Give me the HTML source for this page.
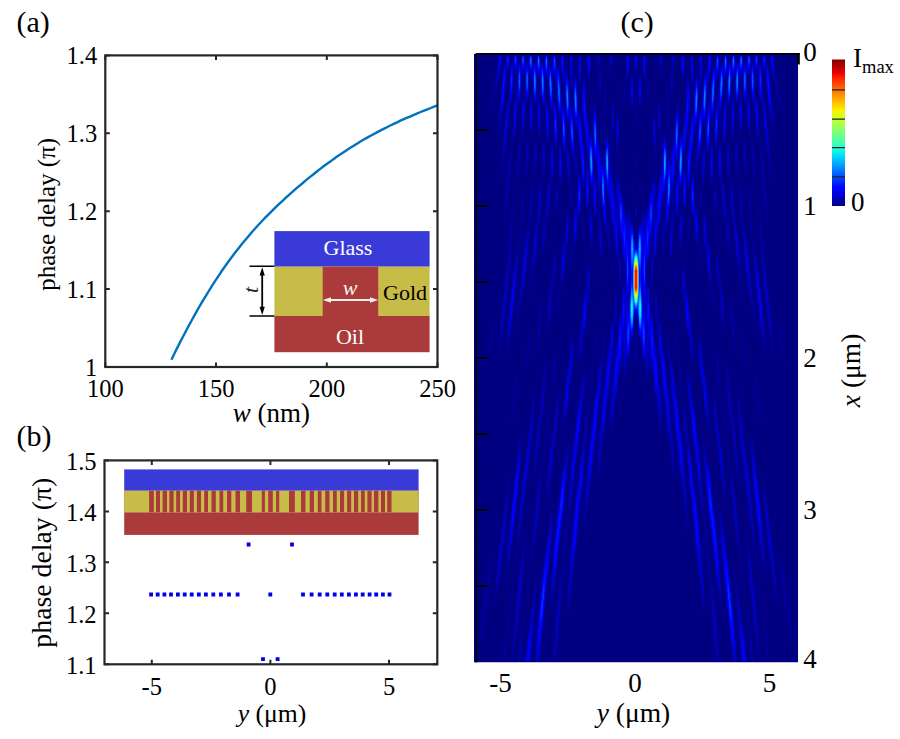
<!DOCTYPE html>
<html><head><meta charset="utf-8"><style>html,body{margin:0;padding:0;background:#fff;width:900px;height:739px;overflow:hidden}svg{display:block}text{font-family:"Liberation Serif",serif}</style></head>
<body><svg width="900" height="739" viewBox="0 0 900 739" font-family="Liberation Serif, serif"><text x="16.50" y="32.30" font-size="30" text-anchor="start" fill="#000" >(a)</text>
<path d="M171.4,359.7 L174.8,352.8 L178.1,346.1 L181.5,339.5 L184.9,333.0 L188.2,326.7 L191.6,320.5 L195.0,314.4 L198.3,308.5 L201.7,302.7 L205.1,297.1 L208.5,291.5 L211.8,286.1 L215.2,280.9 L218.6,275.8 L221.9,270.8 L225.3,266.0 L228.7,261.3 L232.0,256.7 L235.4,252.3 L238.8,247.9 L242.1,243.7 L245.5,239.7 L248.9,235.7 L252.2,231.8 L255.6,228.0 L259.0,224.3 L262.3,220.7 L265.7,217.2 L269.1,213.8 L272.5,210.4 L275.8,207.2 L279.2,203.9 L282.6,200.8 L285.9,197.7 L289.3,194.6 L292.7,191.7 L296.0,188.7 L299.4,185.8 L302.8,183.0 L306.1,180.1 L309.5,177.4 L312.9,174.7 L316.2,172.0 L319.6,169.4 L323.0,166.8 L326.3,164.3 L329.7,161.9 L333.1,159.4 L336.4,157.1 L339.8,154.7 L343.2,152.5 L346.6,150.2 L349.9,148.1 L353.3,145.9 L356.7,143.9 L360.0,141.8 L363.4,139.8 L366.8,137.9 L370.1,136.0 L373.5,134.2 L376.9,132.4 L380.2,130.6 L383.6,128.9 L387.0,127.2 L390.3,125.5 L393.7,123.9 L397.1,122.3 L400.4,120.7 L403.8,119.2 L407.2,117.7 L410.6,116.3 L413.9,114.8 L417.3,113.4 L420.7,112.0 L424.0,110.6 L427.4,109.3 L430.8,108.0 L434.1,106.6 L437.5,105.3" fill="none" stroke="#0072BD" stroke-width="2.4"/>
<rect x="274.4" y="231.1" width="155.2" height="35.6" fill="#3A3AD8"/>
<rect x="274.4" y="266.7" width="155.2" height="49.3" fill="#C8BC48"/>
<rect x="322.7" y="266.7" width="55.5" height="49.3" fill="#AB3A3A"/>
<rect x="274.4" y="316" width="155.2" height="36.2" fill="#AB3A3A"/>
<text x="348.00" y="255.00" font-size="22" text-anchor="middle" fill="#fff" >Glass</text>
<text x="405.00" y="299.50" font-size="22" text-anchor="middle" fill="#000" >Gold</text>
<text x="350.00" y="344.00" font-size="22" text-anchor="middle" fill="#fff" >Oil</text>
<text x="350.00" y="295.00" font-size="22" text-anchor="middle" fill="#f8f0f0" font-style="italic">w</text>
<path d="M328,300 L373,300" stroke="#f4f0ee" stroke-width="2.2"/>
<path d="M322.8,300 L331,297.2 L331,302.8 Z M378.2,300 L370,297.2 L370,302.8 Z" fill="#f4f0ee"/>
<path d="M249.5,266.2 L274.4,266.2 M249.5,316.1 L274.4,316.1" stroke="#000" stroke-width="1.5"/>
<path d="M262.2,272 L262.2,310" stroke="#000" stroke-width="1.8"/>
<path d="M262.2,267.2 L259.6,275.5 L264.8,275.5 Z M262.2,315 L259.6,306.8 L264.8,306.8 Z" fill="#000"/>
<text x="0" y="0" font-size="22" font-style="italic" text-anchor="middle" fill="#222" transform="translate(257.5,290) rotate(-90)">t</text>
<rect x="105.3" y="55.4" width="332.2" height="311.6" fill="none" stroke="#262626" stroke-width="2.2"/>
<text x="97.20" y="63.90" font-size="24.5" text-anchor="end" fill="#000" >1.4</text>
<text x="97.20" y="141.80" font-size="24.5" text-anchor="end" fill="#000" >1.3</text>
<text x="97.20" y="219.70" font-size="24.5" text-anchor="end" fill="#000" >1.2</text>
<text x="97.20" y="297.60" font-size="24.5" text-anchor="end" fill="#000" >1.1</text>
<text x="97.20" y="375.50" font-size="24.5" text-anchor="end" fill="#000" >1</text>
<text x="105.30" y="397.20" font-size="24.5" text-anchor="middle" fill="#000" >100</text>
<text x="216.03" y="397.20" font-size="24.5" text-anchor="middle" fill="#000" >150</text>
<text x="326.77" y="397.20" font-size="24.5" text-anchor="middle" fill="#000" >200</text>
<text x="437.50" y="397.20" font-size="24.5" text-anchor="middle" fill="#000" >250</text>
<path d="M105.3,55.4h4.5M437.5,55.4h-4.5M105.3,133.3h4.5M437.5,133.3h-4.5M105.3,211.2h4.5M437.5,211.2h-4.5M105.3,289.1h4.5M437.5,289.1h-4.5M105.3,367.0h4.5M437.5,367.0h-4.5M105.3,367v-4.5M105.3,55.4v4.5M216.0,367v-4.5M216.0,55.4v4.5M326.8,367v-4.5M326.8,55.4v4.5M437.5,367v-4.5M437.5,55.4v4.5" stroke="#262626" stroke-width="2"/>
<text x="271.3" y="421.5" font-size="27" text-anchor="middle"><tspan font-style="italic">w</tspan> (nm)</text>
<text x="0" y="0" font-size="25" text-anchor="middle" transform="translate(55.3,214.3) rotate(-90)">phase delay (π)</text>
<text x="16.50" y="446.20" font-size="30" text-anchor="start" fill="#000" >(b)</text>
<rect x="124.2" y="469.4" width="294.4" height="21.3" fill="#3A3AD8"/>
<rect x="124.2" y="490.7" width="294.4" height="21.6" fill="#AB3A3A"/>
<rect x="124.2" y="512.3" width="294.4" height="22.6" fill="#AB3A3A"/>
<path d="M264.9,490.7h3.3v21.6h-3.3zM272.8,490.7h3.3v21.6h-3.3zM252.0,490.7h9.8v21.6h-9.8zM279.2,490.7h9.8v21.6h-9.8zM240.0,490.7h6.2v21.6h-6.2zM294.8,490.7h6.2v21.6h-6.2zM231.3,490.7h4.2v21.6h-4.2zM305.5,490.7h4.2v21.6h-4.2zM223.2,490.7h3.8v21.6h-3.8zM314.0,490.7h3.8v21.6h-3.8zM215.8,490.7h3.7v21.6h-3.7zM321.5,490.7h3.7v21.6h-3.7zM208.0,490.7h3.5v21.6h-3.5zM329.5,490.7h3.5v21.6h-3.5zM201.0,490.7h3.2v21.6h-3.2zM336.8,490.7h3.2v21.6h-3.2zM193.9,490.7h3.0v21.6h-3.0zM344.1,490.7h3.0v21.6h-3.0zM187.0,490.7h2.8v21.6h-2.8zM351.2,490.7h2.8v21.6h-2.8zM180.0,490.7h2.8v21.6h-2.8zM358.2,490.7h2.8v21.6h-2.8zM173.6,490.7h2.6v21.6h-2.6zM364.8,490.7h2.6v21.6h-2.6zM167.0,490.7h2.4v21.6h-2.4zM371.6,490.7h2.4v21.6h-2.4zM160.0,490.7h2.6v21.6h-2.6zM378.4,490.7h2.6v21.6h-2.6zM153.8,490.7h2.2v21.6h-2.2zM385.0,490.7h2.2v21.6h-2.2zM124.2,490.7H149.1v21.6H124.2zM391.5,490.7H418.6v21.6H391.5z" fill="#C8BC48"/>
<path d="M235.7,592.6h3.8v3.8h-3.8zM301.1,592.6h3.8v3.8h-3.8zM227.1,592.6h3.8v3.8h-3.8zM309.7,592.6h3.8v3.8h-3.8zM219.0,592.6h3.8v3.8h-3.8zM317.8,592.6h3.8v3.8h-3.8zM211.4,592.6h3.8v3.8h-3.8zM325.4,592.6h3.8v3.8h-3.8zM204.0,592.6h3.8v3.8h-3.8zM332.8,592.6h3.8v3.8h-3.8zM196.9,592.6h3.8v3.8h-3.8zM339.9,592.6h3.8v3.8h-3.8zM189.8,592.6h3.8v3.8h-3.8zM347.0,592.6h3.8v3.8h-3.8zM182.8,592.6h3.8v3.8h-3.8zM354.0,592.6h3.8v3.8h-3.8zM176.0,592.6h3.8v3.8h-3.8zM360.8,592.6h3.8v3.8h-3.8zM169.1,592.6h3.8v3.8h-3.8zM367.7,592.6h3.8v3.8h-3.8zM162.5,592.6h3.8v3.8h-3.8zM374.3,592.6h3.8v3.8h-3.8zM155.8,592.6h3.8v3.8h-3.8zM381.0,592.6h3.8v3.8h-3.8zM149.2,592.6h3.8v3.8h-3.8zM387.6,592.6h3.8v3.8h-3.8zM268.4,592.6h3.8v3.8h-3.8zM246.7,542.6h3.8v3.8h-3.8zM290.1,542.6h3.8v3.8h-3.8zM261.1,657.3h3.8v3.8h-3.8zM275.7,657.3h3.8v3.8h-3.8z" fill="#0000E6"/>
<rect x="104.5" y="460.4" width="332.8" height="203.89999999999998" fill="none" stroke="#262626" stroke-width="2.2"/>
<text x="96.50" y="469.60" font-size="24.5" text-anchor="end" fill="#000" >1.5</text>
<text x="96.50" y="520.58" font-size="24.5" text-anchor="end" fill="#000" >1.4</text>
<text x="96.50" y="571.55" font-size="24.5" text-anchor="end" fill="#000" >1.3</text>
<text x="96.50" y="622.53" font-size="24.5" text-anchor="end" fill="#000" >1.2</text>
<text x="96.50" y="673.50" font-size="24.5" text-anchor="end" fill="#000" >1.1</text>
<text x="151.80" y="695.20" font-size="24.5" text-anchor="middle" fill="#000" >-5</text>
<text x="270.40" y="695.20" font-size="24.5" text-anchor="middle" fill="#000" >0</text>
<text x="389.00" y="695.20" font-size="24.5" text-anchor="middle" fill="#000" >5</text>
<path d="M104.5,460.4h4.5M437.3,460.4h-4.5M104.5,511.4h4.5M437.3,511.4h-4.5M104.5,562.3h4.5M437.3,562.3h-4.5M104.5,613.3h4.5M437.3,613.3h-4.5M104.5,664.3h4.5M437.3,664.3h-4.5M151.8,664.3v-4.5M151.8,460.4v4.5M270.4,664.3v-4.5M270.4,460.4v4.5M389.0,664.3v-4.5M389.0,460.4v4.5" stroke="#262626" stroke-width="2"/>
<text x="272" y="721.5" font-size="25.7" text-anchor="middle"><tspan font-style="italic">y</tspan> (μm)</text>
<text x="0" y="0" font-size="27.8" text-anchor="middle" transform="translate(51,562.7) rotate(-90)">phase delay (π)</text>
<text x="620.50" y="32.30" font-size="30" text-anchor="start" fill="#000" >(c)</text>
<defs><filter id="hb" x="0" y="0" width="1" height="1"><feGaussianBlur stdDeviation="0.5"/></filter><clipPath id="hc"><rect x="474" y="54" width="324" height="608.5"/></clipPath></defs><g clip-path="url(#hc)"><g filter="url(#hb)"><rect x="474" y="54" width="324" height="608.5" fill="#000080"/><g transform="translate(474.5,54)" fill="none" stroke-width="1"><path stroke="#000098" d="M5 581v10m1 -20v18m1 -27v23m1 -30v26m1 -33v27m1 -34v29m1 -36v30m1 -36v29m1 -252v5m0 212v28m1 -254v11m0 209v27m1 -254v13m0 208v25m1 -485v7m0 226v14m0 208v21m1 -481v10m0 222v14m0 210v14m1 -476v13m0 219v13m1 -250v15m0 217v10m1 -248v17m0 493v14m1 -530v19m0 485v23m1 -533v21m0 479v28m1 -535v24m0 40v12m0 422v31m1 -535v25m0 34v20m0 203v16m0 197v34m1 -532v23m0 29v25m0 198v22m0 193v36m1 -526v17m0 25v30m0 194v26m0 190v37m1 -517v8m0 21v35m0 40v18m0 134v28m0 188v37m1 -492v40m0 34v25m0 131v30m0 187v38m1 -493v41m0 28v32m0 129v31m0 186v38m0 107v4m1 -598v35m0 25v35m0 49v16m0 63v33m0 186v36m0 107v13m1 -600v25m0 27v37m0 43v25m0 59v34m0 186v35m0 107v17m1 -602v21m0 30v37m0 40v29m0 57v35m0 37v15m0 135v32m0 40v17m0 52v17m1 -594v19m0 27v32m0 38v33m0 55v36m0 33v25m0 131v28m0 39v24m0 48v17m1 -585v16m0 25v26m0 39v34m0 53v37m0 33v30m0 130v22m0 39v31m0 45v16m1 -573v9m0 19v27m0 40v32m0 51v39m0 33v34m0 132v12m0 43v35m0 43v15m1 -556v42m0 38v27m0 50v41m0 34v37m0 183v39m0 43v13m1 -550v41m0 37v18m0 54v37m0 39v39m0 88v8m0 85v41m0 42v11m0 53v6m1 -599v35m0 32v18m0 57v28m0 47v40m0 83v18m0 78v44m0 41v10m0 51v17m1 -603v27m0 27v31m0 55v17m0 56v39m0 82v21m0 76v45m0 40v10m0 49v25m1 -604v19m0 27v39m0 124v38m0 83v21m0 75v45m0 39v12m0 46v29m1 -597v19m0 23v37m0 124v35m0 86v17m0 76v46m0 37v14m0 44v31m1 -589v17m0 22v30m0 47v17m0 64v31m0 39v11m0 43v8m0 79v46m0 35v18m0 41v33m1 -576v51m0 43v30m0 62v26m0 40v16m0 126v45m0 34v22m0 38v35m1 -565v43m0 38v34m0 62v22m0 41v19m0 124v43m0 34v25m0 36v36m0 36v6m1 -599v41m0 36v29m0 62v20m0 43v21m0 125v38m0 34v29m0 35v35m0 37v14m1 -599v36m0 41v9m0 65v28m0 44v23m0 126v30m0 37v31m0 34v35m0 38v22m1 -605v26m0 30v24m0 61v35m0 44v26m0 133v13m0 43v34m0 34v33m0 40v27m1 -605v20m0 24v38m0 52v33m0 45v31m0 184v36m0 35v30m0 42v23m1 -593v20m0 21v38m0 51v21m0 51v35m0 181v37m0 36v27m0 45v18m1 -579v17m0 21v30m0 122v39m0 179v36m0 39v23m0 47v14m1 -562v44m0 57v15m0 61v39m0 179v36m0 41v17m0 52v10m0 44v5m1 -599v41m0 39v34m0 55v37m0 90v10m0 81v35m0 45v9m0 57v6m0 46v14m1 -599v40m0 35v34m0 55v32m0 90v15m0 78v35m0 111v4m0 48v22m1 -600v37m0 41v22m0 59v26m0 43v10m0 40v18m0 76v36m0 108v6m0 48v30m1 -607v23m0 31v15m0 84v29m0 43v15m0 39v15m0 77v36m0 106v9m0 47v38m1 -607v22m0 20v39m0 55v38m0 43v16m0 128v38m0 104v13m0 46v45m1 -607v22m0 20v38m0 49v37m0 42v18m0 126v38m0 103v17m0 45v43m1 -596v24m0 16v32m0 54v23m0 46v24m0 122v37m0 44v10m0 49v21m0 44v39m1 -580v42m0 137v30m0 120v32m0 43v19m0 43v25m0 43v36m1 -569v42m0 42v29m0 55v35m0 131v8m0 49v25m0 39v29m0 42v32m1 -558v42m0 35v35m0 49v36m0 184v28m0 37v31m0 42v28m0 40v12m1 -602v43m0 39v27m0 50v32m0 93v7m0 83v31m0 35v33m0 42v22m0 41v24m1 -607v23m0 21v22m0 91v28m0 91v17m0 77v32m0 35v33m0 44v16m0 41v36m1 -607v24m0 18v41m0 58v35m0 89v23m0 75v30m0 36v32m0 47v7m0 44v48m1 -607v24m0 20v40m0 45v41m0 86v27m0 72v29m0 38v29m0 98v54m1 -599v29m0 18v30m0 44v38m0 86v26m0 73v28m0 41v24m0 97v57m1 -587v40m0 78v24m0 96v18m0 75v30m0 42v19m0 98v59m1 -579v44m0 40v32m0 57v18m0 130v32m0 46v11m0 101v58m1 -568v44m0 33v38m0 46v27m0 122v35m0 47v7m0 103v57m1 -564v49m0 34v34m0 43v28m0 118v35m0 47v7m0 104v55m1 -558v23m0 20v24m0 92v23m0 125v27m0 47v12m0 103v52m1 -548v25m0 19v43m0 60v25m0 199v15m0 48v13m0 43v48m1 -538v26m0 21v42m0 43v35m0 91v18m0 86v15m0 44v23m0 39v45m1 -523v31m0 18v33m0 40v36m0 81v32m0 79v13m0 42v30m0 36v43m1 -510v40m0 76v31m0 79v37m0 77v7m0 44v34m0 34v42m1 -501v47m0 38v42m0 94v33m0 129v35m0 34v38m0 39v18m1 -545v48m0 28v44m0 94v27m0 81v5m0 46v35m0 36v32m0 35v30m1 -547v55m0 28v41m0 88v24m0 78v16m0 43v32m0 41v22m0 35v39m1 -547v23m0 19v29m0 22v28m0 86v28m0 73v23m0 40v30m0 95v45m0 52v14m1 -607v26m0 20v46m0 108v29m0 71v24m0 39v30m0 91v50m0 46v27m1 -607v28m0 21v46m0 41v22m0 40v22m0 77v17m0 40v31m0 89v53m0 41v39m1 -600v29m0 18v40m0 36v28m0 188v32m0 87v53m0 39v46m1 -592v44m0 12v22m0 40v25m0 186v28m0 89v52m0 38v46m1 -581v50m0 172v22m0 80v21m0 92v51m0 38v43m1 -566v50m0 24v41m0 96v28m0 187v50m0 40v37m1 -543v41m0 24v41m0 86v22m0 193v51m0 41v31m1 -555v22m0 19v33m0 21v32m0 75v30m0 142v12m0 38v52m0 41v25m1 -542v27m0 20v47m0 98v37m0 135v16m0 36v52m0 40v23m1 -531v30m0 19v50m0 88v38m0 128v22m0 35v48m0 40v23m1 -512v26m0 18v47m0 83v33m0 125v30m0 34v43m0 39v25m1 -496v83m0 74v30m0 127v37m0 32v39m0 37v28m1 -487v50m0 27v8m0 59v37m0 125v40m0 31v35m0 37v27m1 -473v51m0 22v31m0 35v34m0 123v39m0 33v30m0 38v25m0 59v20m1 -534v46m0 22v35m0 32v24m0 125v36m0 37v24m0 38v25m0 51v40m1 -557v13m0 23v36m0 25v30m0 171v35m0 49v2m0 45v29m0 46v48m1 -555v30m0 20v41m0 36v27m0 138v37m0 90v35m0 42v50m1 -546v34m0 16v50m0 32v22m0 38v21m0 72v38m0 84v40m0 40v48m1 -531v29m0 21v50m0 85v17m0 75v33m0 83v43m0 37v48m1 -502v84m0 65v19m0 89v22m0 87v43m0 34v50m1 -495v46m0 17v29m0 43v35m0 191v40m0 33v53m1 -488v52m0 24v24m0 32v39m0 182v40m0 33v54m1 -477v53m0 25v21m0 29v35m0 178v42m0 32v53m1 -461v49m0 34v58m0 184v44m0 32v49m1 -477v27m0 24v33m0 31v46m0 132v11m0 41v44m0 31v46m1 -469v34m0 22v40m0 24v43m0 117v28m0 35v40m0 31v46m1 -460v32m0 28v43m0 21v35m0 113v34m0 31v36m0 31v48m1 -447v12m0 51v66m0 132v34m0 29v34m0 33v47m1 -412v28m0 21v53m0 124v34m0 30v34m0 35v43m1 -410v46m0 20v45m0 28v14m0 68v40m0 33v31m0 36v37m1 -401v57m0 21v33m0 107v42m0 36v20m0 40v33m0 39v29m1 -453v64m0 25v28m0 94v39m0 92v33m0 35v39m1 -419v45m0 14v41m0 75v36m0 92v33m0 33v42m1 -462v21m0 38v41m0 9v45m0 41v55m0 97v29m0 34v41m1 -454v27m0 42v36m0 11v41m0 49v41m0 100v17m0 37v44m1 -445v25m0 50v54m0 25v26m0 32v29m0 100v6m0 42v49m1 -435v14m0 61v53m0 24v35m0 135v17m0 38v52m1 -351v52m0 25v37m0 119v23m0 36v51m1 -339v52m0 32v26m0 115v17m0 38v49m1 -365v108m0 198v49m1 -356v58m0 13v44m0 182v51m1 -345v58m0 14v41m0 118v18m0 39v50m1 -329v52m0 19v28m0 51v19m0 48v17m0 39v47m1 -378v13m0 63v52m0 78v20m0 98v43m0 43v8m1 -420v21m0 65v85m0 145v43m0 31v33m1 -421v43m0 41v110m0 60v6m0 46v44m0 26v41m1 -403v29m0 48v47m0 23v42m0 43v14m0 42v39m0 26v41m1 -385v8m0 70v47m0 24v31m0 96v28m0 29v41m1 -297v57m0 133v22m0 30v47m1 -322v19m0 15v65m0 113v25m0 28v52m1 -350v41m0 25v74m0 40v13m0 51v16m0 31v52m1 -342v23m0 26v93m0 140v49m1 -286v55m0 16v25m0 129v51m1 -277v62m0 23v23m0 109v53m1 -269v67m0 20v32m0 92v51m1 -331v11m0 66v64m0 21v25m0 88v46m1 -334v19m0 93v46m0 118v47m0 30v23m1 -376v15m0 47v37m0 9v61m0 43v7m0 48v49m0 19v42m1 -375v9m0 35v42m0 31v58m0 28v21m0 38v45m0 16v49m1 -328v33m0 50v51m0 83v33m0 21v49m1 -230v49m0 63v31m0 24v52m1 -251v18m0 18v60m0 37v39m0 15v58m1 -283v139m0 33v31m0 18v58m1 -285v37m0 22v87m0 75v56m1 -280v34m0 31v95m0 51v58m1 -200v59m0 8v43m0 22v63m1 -189v60m0 5v35m0 24v62m1 -182v56m0 61v57m1 -168v60m0 29v75m1 -277v22m0 100v62m0 10v101m1 -297v24m0 102v61m0 12v101m1 -173v169m1 -321v24m0 134v152m1 -312v27m0 134v148m1 -309v23m0 133v153m1 -153v149m1 -279v26m0 111v129m1 -274v37m0 75v9m0 29v119m1 -270v36m0 73v16m0 27v117m1 -261v20m0 126v111m1 -279v11m0 170v83m1 -267v19m0 38v15m0 31v11m0 35v18m0 23v73m0 26v22m1 -311v19m0 38v15m0 31v11m0 35v18m0 23v73m0 26v22m1 -308v11m0 170v83m1 -242v20m0 126v111m1 -265v36m0 73v16m0 27v117m1 -268v37m0 75v9m0 29v119m1 -261v26m0 111v129m1 -136v149m1 -305v23m0 133v153m1 -309v27m0 134v148m1 -307v24m0 134v152m1 -158v169m1 -296v24m0 102v61m0 12v101m1 -298v22m0 100v62m0 10v101m1 -182v60m0 29v75m1 -170v56m0 61v57m1 -178v60m0 5v35m0 24v62m1 -192v59m0 8v43m0 22v63m1 -264v34m0 31v95m0 51v58m1 -266v37m0 22v87m0 75v56m1 -271v139m0 33v31m0 18v58m1 -241v18m0 18v60m0 37v39m0 15v58m1 -213v49m0 63v31m0 24v52m1 -309v33m0 50v51m0 83v33m0 21v49m1 -364v9m0 35v42m0 31v58m0 28v21m0 38v45m0 16v49m1 -374v15m0 47v37m0 9v61m0 43v7m0 48v49m0 19v42m1 -377v19m0 93v46m0 118v47m0 30v23m1 -363v11m0 66v64m0 21v25m0 88v46m1 -252v67m0 20v32m0 92v51m1 -263v62m0 23v23m0 109v53m1 -269v55m0 16v25m0 129v51m1 -321v23m0 26v93m0 140v49m1 -332v41m0 25v74m0 40v13m0 51v16m0 31v52m1 -310v19m0 15v65m0 113v25m0 28v52m1 -284v57m0 133v22m0 30v47m1 -366v8m0 70v47m0 24v31m0 96v28m0 29v41m1 -383v29m0 48v47m0 23v42m0 43v14m0 42v39m0 26v41m1 -408v43m0 41v110m0 60v6m0 46v44m0 26v41m1 -419v21m0 65v85m0 145v43m0 31v33m1 -421v13m0 63v52m0 78v20m0 98v43m0 43v8m1 -360v52m0 19v28m0 51v19m0 48v17m0 39v47m1 -329v58m0 14v41m0 118v18m0 39v50m1 -341v58m0 13v44m0 182v51m1 -347v108m0 198v49m1 -319v52m0 32v26m0 115v17m0 38v49m1 -333v52m0 25v37m0 119v23m0 36v51m1 -421v14m0 61v53m0 24v35m0 135v17m0 38v52m1 -432v25m0 50v54m0 25v26m0 32v29m0 100v6m0 42v49m1 -438v27m0 42v36m0 11v41m0 49v41m0 100v17m0 37v44m1 -442v21m0 38v41m0 9v45m0 41v55m0 97v29m0 34v41m1 -400v45m0 14v41m0 75v36m0 92v33m0 33v42m1 -441v64m0 25v28m0 94v39m0 92v33m0 35v39m1 -453v57m0 21v33m0 107v42m0 36v20m0 40v33m0 39v29m1 -454v46m0 20v45m0 28v14m0 68v40m0 33v31m0 36v37m1 -390v28m0 21v53m0 124v34m0 30v34m0 35v43m1 -428v12m0 51v66m0 132v34m0 29v34m0 33v47m1 -443v32m0 28v43m0 21v35m0 113v34m0 31v36m0 31v48m1 -452v34m0 22v40m0 24v43m0 117v28m0 35v40m0 31v46m1 -457v27m0 24v33m0 31v46m0 132v11m0 41v44m0 31v46m1 -439v49m0 34v58m0 184v44m0 32v49m1 -457v53m0 25v21m0 29v35m0 178v42m0 32v53m1 -471v52m0 24v24m0 32v39m0 182v40m0 33v54m1 -479v46m0 17v29m0 43v35m0 191v40m0 33v53m1 -485v84m0 65v19m0 89v22m0 87v43m0 34v50m1 -512v29m0 21v50m0 85v17m0 75v33m0 83v43m0 37v48m1 -525v34m0 16v50m0 32v22m0 38v21m0 72v38m0 84v40m0 40v48m1 -535v30m0 20v41m0 36v27m0 138v37m0 90v35m0 42v50m1 -543v13m0 23v36m0 25v30m0 171v35m0 49v2m0 45v29m0 46v48m1 -530v46m0 22v35m0 32v24m0 125v36m0 37v24m0 38v25m0 51v40m1 -541v51m0 22v31m0 35v34m0 123v39m0 33v30m0 38v25m0 59v20m1 -543v50m0 27v8m0 59v37m0 125v40m0 31v35m0 37v27m1 -476v83m0 74v30m0 127v37m0 32v39m0 37v28m1 -494v26m0 18v47m0 83v33m0 125v30m0 34v43m0 39v25m1 -512v30m0 19v50m0 88v38m0 128v22m0 35v48m0 40v23m1 -521v27m0 20v47m0 98v37m0 135v16m0 36v52m0 40v23m1 -531v22m0 19v33m0 21v32m0 75v30m0 142v12m0 38v52m0 41v25m1 -517v41m0 24v41m0 86v22m0 193v51m0 41v31m1 -540v50m0 24v41m0 96v28m0 187v50m0 40v37m1 -556v50m0 172v22m0 80v21m0 92v51m0 38v43m1 -570v44m0 12v22m0 40v25m0 186v28m0 89v52m0 38v46m1 -586v29m0 18v40m0 36v28m0 188v32m0 87v53m0 39v46m1 -603v28m0 21v46m0 41v22m0 40v22m0 77v17m0 40v31m0 89v53m0 41v39m1 -607v26m0 20v46m0 108v29m0 71v24m0 39v30m0 91v50m0 46v27m1 -607v23m0 19v29m0 22v28m0 86v28m0 73v23m0 40v30m0 95v45m0 52v14m1 -602v55m0 28v41m0 88v24m0 78v16m0 43v32m0 41v22m0 35v39m1 -536v48m0 28v44m0 94v27m0 81v5m0 46v35m0 36v32m0 35v30m1 -543v47m0 38v42m0 94v33m0 129v35m0 34v38m0 39v18m1 -547v40m0 76v31m0 79v37m0 77v7m0 44v34m0 34v42m1 -505v31m0 18v33m0 40v36m0 81v32m0 79v13m0 42v30m0 36v43m1 -519v26m0 21v42m0 43v35m0 91v18m0 86v15m0 44v23m0 39v45m1 -528v25m0 19v43m0 60v25m0 199v15m0 48v13m0 43v48m1 -538v23m0 20v24m0 92v23m0 125v27m0 47v12m0 103v52m1 -544v49m0 34v34m0 43v28m0 118v35m0 47v7m0 104v55m1 -549v44m0 33v38m0 46v27m0 122v35m0 47v7m0 103v57m1 -560v44m0 40v32m0 57v18m0 130v32m0 46v11m0 101v58m1 -569v40m0 78v24m0 96v18m0 75v30m0 42v19m0 98v59m1 -583v29m0 18v30m0 44v38m0 86v26m0 73v28m0 41v24m0 97v57m1 -595v24m0 20v40m0 45v41m0 86v27m0 72v29m0 38v29m0 98v54m1 -603v24m0 18v41m0 58v35m0 89v23m0 75v30m0 36v32m0 47v7m0 44v48m1 -607v23m0 21v22m0 91v28m0 91v17m0 77v32m0 35v33m0 44v16m0 41v36m1 -602v43m0 39v27m0 50v32m0 93v7m0 83v31m0 35v33m0 42v22m0 41v24m1 -599v42m0 35v35m0 49v36m0 184v28m0 37v31m0 42v28m0 40v12m1 -599v42m0 42v29m0 55v35m0 131v8m0 49v25m0 39v29m0 42v32m1 -559v42m0 137v30m0 120v32m0 43v19m0 43v25m0 43v36m1 -575v24m0 16v32m0 54v23m0 46v24m0 122v37m0 44v10m0 49v21m0 44v39m1 -587v22m0 20v38m0 49v37m0 42v18m0 126v38m0 103v17m0 45v43m1 -598v22m0 20v39m0 55v38m0 43v16m0 128v38m0 104v13m0 46v45m1 -607v23m0 31v15m0 84v29m0 43v15m0 39v15m0 77v36m0 106v9m0 47v38m1 -600v37m0 41v22m0 59v26m0 43v10m0 40v18m0 76v36m0 108v6m0 48v30m1 -599v40m0 35v34m0 55v32m0 90v15m0 78v35m0 111v4m0 48v22m1 -599v41m0 39v34m0 55v37m0 90v10m0 81v35m0 45v9m0 57v6m0 46v14m1 -600v44m0 57v15m0 61v39m0 179v36m0 41v17m0 52v10m0 44v5m1 -605v17m0 21v30m0 122v39m0 179v36m0 39v23m0 47v14m1 -569v20m0 21v38m0 51v21m0 51v35m0 181v37m0 36v27m0 45v18m1 -581v20m0 24v38m0 52v33m0 45v31m0 184v36m0 35v30m0 42v23m1 -591v26m0 30v24m0 61v35m0 44v26m0 133v13m0 43v34m0 34v33m0 40v27m1 -597v36m0 41v9m0 65v28m0 44v23m0 126v30m0 37v31m0 34v35m0 38v22m1 -599v41m0 36v29m0 62v20m0 43v21m0 125v38m0 34v29m0 35v35m0 37v14m1 -599v43m0 38v34m0 62v22m0 41v19m0 124v43m0 34v25m0 36v36m0 36v6m1 -602v51m0 43v30m0 62v26m0 40v16m0 126v45m0 34v22m0 38v35m1 -573v17m0 22v30m0 47v17m0 64v31m0 39v11m0 43v8m0 79v46m0 35v18m0 41v33m1 -581v19m0 23v37m0 124v35m0 86v17m0 76v46m0 37v14m0 44v31m1 -589v19m0 27v39m0 124v38m0 83v21m0 75v45m0 39v12m0 46v29m1 -593v27m0 27v31m0 55v17m0 56v39m0 82v21m0 76v45m0 40v10m0 49v25m1 -596v35m0 32v18m0 57v28m0 47v40m0 83v18m0 78v44m0 41v10m0 51v17m1 -599v41m0 37v18m0 54v37m0 39v39m0 88v8m0 85v41m0 42v11m0 53v6m1 -596v42m0 38v27m0 50v41m0 34v37m0 183v39m0 43v13m1 -555v9m0 19v27m0 40v32m0 51v39m0 33v34m0 132v12m0 43v35m0 43v15m1 -567v16m0 25v26m0 39v34m0 53v37m0 33v30m0 130v22m0 39v31m0 45v16m1 -576v19m0 27v32m0 38v33m0 55v36m0 33v25m0 131v28m0 39v24m0 48v17m1 -585v21m0 30v37m0 40v29m0 57v35m0 37v15m0 135v32m0 40v17m0 52v17m1 -587v25m0 27v37m0 43v25m0 59v34m0 186v35m0 107v17m1 -593v35m0 25v35m0 49v16m0 63v33m0 186v36m0 107v13m1 -596v41m0 28v32m0 129v31m0 186v38m0 107v4m1 -588v40m0 34v25m0 131v30m0 187v38m1 -502v8m0 21v35m0 40v18m0 134v28m0 188v37m1 -511v17m0 25v30m0 194v26m0 190v37m1 -519v23m0 29v25m0 198v22m0 193v36m1 -523v25m0 34v20m0 203v16m0 197v34m1 -523v24m0 40v12m0 422v31m1 -522v21m0 479v28m1 -522v19m0 485v23m1 -521v17m0 493v14m1 -518v15m0 217v10m1 -237v13m0 219v13m1 -239v10m0 222v14m0 210v14m1 -465v7m0 226v14m0 208v21m1 -237v13m0 208v25m1 -239v11m0 209v27m1 -238v5m0 212v28m1 -22v29m1 -23v30m1 -23v29m1 -22v27m1 -20v26m1 -19v23m1 -14v18m1 -8v10"/><path stroke="#0000ad" d="M22 22v8m0 495v11m1 -523v15m0 486v18m1 -528v21m0 479v23m1 -527v20m0 37v15m0 423v26m1 -521v15m0 31v22m0 204v14m0 201v27m1 -512v6m0 26v29m0 199v19m0 197v29m1 -485v35m0 44v8m0 144v22m0 195v29m1 -486v37m0 35v21m0 139v23m0 195v28m1 -480v30m0 32v27m0 136v25m0 194v27m1 -472v19m0 33v30m0 135v26m0 195v25m1 -471v16m0 36v30m0 50v16m0 69v26m0 196v21m1 -462v17m0 32v25m0 48v21m0 67v26m0 43v13m0 144v14m0 53v10m1 -513v15m0 30v18m0 49v22m0 66v26m0 41v21m0 201v21m1 -474v18m0 50v19m0 67v25m0 41v27m0 195v27m1 -491v36m0 50v8m0 72v21m0 45v31m0 190v32m1 -489v37m0 125v6m0 59v33m0 187v35m1 -482v31m0 187v34m0 185v37m1 -476v17m0 38v21m0 136v33m0 185v39m0 109v10m1 -596v17m0 33v31m0 132v31m0 185v39m0 106v17m1 -591v17m0 27v32m0 131v27m0 186v40m0 103v21m1 -584v15m0 27v23m0 137v22m0 187v39m0 102v25m1 -550v24m0 57v13m0 77v13m0 192v38m0 46v4m0 52v26m1 -559v38m0 47v22m0 279v34m0 44v13m0 46v28m0 45v1m1 -598v38m0 45v13m0 141v7m0 138v27m0 44v19m0 44v27m0 46v9m1 -597v32m0 194v12m0 141v15m0 47v23m0 43v26m0 48v16m1 -605v18m0 206v18m0 197v26m0 42v25m0 50v14m1 -598v19m0 28v31m0 67v7m0 64v23m0 192v28m0 43v21m1 -523v19m0 24v32m0 131v28m0 188v29m0 45v17m1 -511v15m0 27v21m0 131v31m0 187v29m0 49v8m1 -490v35m0 143v32m0 186v29m0 170v2m1 -598v38m0 48v21m0 65v30m0 188v27m0 170v11m1 -598v37m0 43v23m0 65v22m0 192v28m0 169v19m1 -596v30m0 133v11m0 198v28m0 169v27m1 -605v17m0 148v4m0 204v28m0 169v35m1 -607v20m0 26v30m0 70v21m0 200v28m0 171v38m1 -604v20m0 24v33m0 60v21m0 200v28m0 173v34m1 -590v18m0 30v16m0 136v12m0 136v24m0 178v29m1 -573v36m0 145v22m0 138v10m0 120v12m0 54v25m1 -562v39m0 54v8m0 70v28m0 198v11m0 52v18m0 53v19m1 -549v38m0 42v25m0 58v28m0 193v18m0 46v23m0 54v11m0 57v4m1 -598v35m0 49v14m0 61v23m0 193v21m0 44v25m0 114v19m1 -607v20m0 143v16m0 196v22m0 44v25m0 109v32m1 -607v22m0 23v33m0 71v22m0 102v6m0 88v22m0 44v24m0 106v44m1 -607v22m0 25v34m0 53v32m0 96v14m0 85v19m0 47v19m0 106v48m1 -595v22m0 31v17m0 56v28m0 96v14m0 84v18m0 52v11m0 108v50m1 -582v35m0 300v19m0 168v51m1 -574v41m0 285v22m0 165v52m1 -563v40m0 39v29m0 56v18m0 133v23m0 165v50m1 -557v42m0 43v24m0 52v19m0 132v21m0 166v48m1 -554v21m0 29v7m0 110v8m0 324v45m1 -544v23m0 24v35m0 74v8m0 329v41m1 -534v24m0 26v36m0 50v27m0 265v9m0 49v38m1 -516v23m0 28v25m0 46v30m0 90v19m0 146v20m0 44v36m1 -504v35m0 85v20m0 89v26m0 138v26m0 42v33m1 -494v42m0 181v24m0 137v28m0 43v28m1 -480v42m0 35v35m0 105v14m0 143v27m0 45v21m0 50v13m1 -515v27m0 35v34m0 99v10m0 148v24m0 108v28m1 -542v20m0 27v17m0 40v9m0 99v18m0 88v3m0 54v21m0 104v37m1 -537v24m0 25v38m0 117v21m0 84v7m0 51v21m0 100v43m0 58v18m1 -605v23m0 26v41m0 54v2m0 56v10m0 144v23m0 97v45m0 52v28m1 -592v21m0 25v34m0 43v20m0 197v22m0 95v47m0 47v33m1 -582v36m0 87v11m0 198v18m0 97v46m0 46v34m1 -572v45m0 393v45m0 47v30m1 -556v45m0 30v33m0 318v44m0 49v24m1 -531v33m0 30v35m0 307v46m0 51v15m1 -545v17m0 27v22m0 33v22m0 85v18m0 201v46m1 -473v24m0 26v39m0 106v30m0 194v46m1 -463v25m0 25v44m0 94v31m0 139v7m0 46v42m1 -439v13m0 27v42m0 89v25m0 133v21m0 42v37m1 -426v32m0 17v27m0 83v20m0 136v29m0 40v31m0 52v6m1 -474v45m0 101v29m0 132v33m0 40v24m0 54v5m1 -460v46m0 30v22m0 42v28m0 130v32m0 41v19m1 -383v40m0 29v28m0 40v14m0 134v28m0 50v5m0 133v19m1 -504v26m0 35v20m0 180v27m0 109v12m0 60v33m1 -546v25m0 28v34m0 208v31m0 99v23m0 53v38m1 -539v30m0 23v44m0 41v10m0 140v31m0 92v32m0 48v38m1 -516v12m0 32v45m0 183v25m0 91v35m0 45v38m1 -489v17m0 21v36m0 288v36m0 42v41m1 -487v40m0 27v16m0 52v29m0 197v34m0 40v45m1 -481v47m0 31v14m0 40v33m0 189v33m0 39v47m1 -470v47m0 35v7m0 39v28m0 185v35m0 39v46m1 -448v37m0 61v27m0 194v38m0 38v42m1 -467v12m0 36v27m0 37v41m0 189v38m0 38v38m1 -465v30m0 29v34m0 29v39m0 124v18m0 43v34m0 37v39m1 -454v25m0 36v38m0 26v29m0 120v26m0 39v28m0 39v40m1 -376v44m0 154v26m0 37v26m0 41v39m1 -403v18m0 29v47m0 131v25m0 39v27m0 42v35m1 -402v39m0 26v39m0 117v33m0 40v22m0 46v27m1 -392v50m0 28v24m0 115v36m0 105v20m1 -364v46m0 154v33m0 101v21m0 48v24m1 -408v37m0 24v34m0 83v25m0 102v22m0 46v28m1 -453v14m0 46v33m0 19v38m0 60v33m0 109v14m0 49v28m1 -448v24m0 49v26m0 23v31m0 59v31m0 164v33m1 -440v22m0 57v43m0 96v18m0 158v40m1 -429v7m0 69v48m0 29v27m0 199v44m1 -344v48m0 29v28m0 187v44m1 -331v44m0 236v41m1 -356v43m0 10v44m0 208v41m1 -348v50m0 21v37m0 189v43m1 -337v51m0 20v35m0 181v43m1 -321v44m0 34v7m0 187v40m1 -373v8m0 73v38m0 208v34m1 -364v13m0 76v46m0 185v34m0 46v13m1 -395v19m0 53v45m0 23v27m0 127v35m0 38v27m1 -392v19m0 59v35m0 36v33m0 106v29m0 40v26m1 -295v38m0 32v24m0 107v10m0 47v26m1 -286v50m0 194v36m1 -278v57m0 127v2m0 45v42m1 -335v7m0 60v60m0 158v43m1 -284v38m0 15v32m0 149v39m1 -278v48m0 27v11m0 141v41m1 -270v56m0 163v45m1 -262v59m0 33v18m0 102v43m1 -229v38m0 35v7m0 101v36m1 -326v11m0 105v36m0 126v36m1 -316v12m0 105v47m0 106v40m0 32v29m1 -368v4m0 44v30m0 44v48m0 95v35m0 29v37m1 -319v24m0 60v42m0 94v17m0 38v35m1 -218v38m0 130v40m1 -198v44m0 46v27m0 28v48m1 -274v23m0 33v13m0 15v47m0 41v18m0 31v49m1 -278v30m0 31v31m0 6v41m0 85v45m1 -269v23m0 40v35m0 112v48m1 -191v46m0 27v26m0 34v54m1 -182v49m0 23v19m0 35v52m1 -175v49m0 71v45m1 -158v50m0 43v55m1 -138v52m0 22v86m1 -281v10m0 113v52m0 22v91m1 -164v54m0 25v79m1 -313v19m0 145v139m1 -306v24m0 142v140m1 -304v17m0 141v146m1 -146v141m1 -134v121m1 -267v31m0 118v115m1 -264v29m0 121v113m1 -110v105m1 -92v77m1 -264v16m0 138v8m0 29v70m0 34v10m1 -305v16m0 138v8m0 29v70m0 34v10m1 -118v77m1 -90v105m1 -258v29m0 121v113m1 -263v31m0 118v115m1 -118v121m1 -128v141m1 -299v17m0 141v146m1 -306v24m0 142v140m1 -303v19m0 145v139m1 -148v54m0 25v79m1 -282v10m0 113v52m0 22v91m1 -167v52m0 22v86m1 -170v50m0 43v55m1 -155v49m0 71v45m1 -168v49m0 23v19m0 35v52m1 -183v46m0 27v26m0 34v54m1 -254v23m0 40v35m0 112v48m1 -258v30m0 31v31m0 6v41m0 85v45m1 -261v23m0 33v13m0 15v47m0 41v18m0 31v49m1 -189v44m0 46v27m0 28v48m1 -203v38m0 130v40m1 -300v24m0 60v42m0 94v17m0 38v35m1 -357v4m0 44v30m0 44v48m0 95v35m0 29v37m1 -369v12m0 105v47m0 106v40m0 32v29m1 -369v11m0 105v36m0 126v36m1 -205v38m0 35v7m0 101v36m1 -243v59m0 33v18m0 102v43m1 -257v56m0 163v45m1 -262v48m0 27v11m0 141v41m1 -263v38m0 15v32m0 149v39m1 -317v7m0 60v60m0 158v43m1 -266v57m0 127v2m0 45v42m1 -275v50m0 194v36m1 -278v38m0 32v24m0 107v10m0 47v26m1 -372v19m0 59v35m0 36v33m0 106v29m0 40v26m1 -385v19m0 53v45m0 23v27m0 127v35m0 38v27m1 -412v13m0 76v46m0 185v34m0 46v13m1 -410v8m0 73v38m0 208v34m1 -300v44m0 34v7m0 187v40m1 -321v51m0 20v35m0 181v43m1 -333v50m0 21v37m0 189v43m1 -338v43m0 10v44m0 208v41m1 -311v44m0 236v41m1 -326v48m0 29v28m0 187v44m1 -415v7m0 69v48m0 29v27m0 199v44m1 -428v22m0 57v43m0 96v18m0 158v40m1 -434v24m0 49v26m0 23v31m0 59v31m0 164v33m1 -435v14m0 46v33m0 19v38m0 60v33m0 109v14m0 49v28m1 -391v37m0 24v34m0 83v25m0 102v22m0 46v28m1 -420v46m0 154v33m0 101v21m0 48v24m1 -441v50m0 28v24m0 115v36m0 105v20m1 -375v39m0 26v39m0 117v33m0 40v22m0 46v27m1 -380v18m0 29v47m0 131v25m0 39v27m0 42v35m1 -357v44m0 154v26m0 37v26m0 41v39m1 -437v25m0 36v38m0 26v29m0 120v26m0 39v28m0 39v40m1 -448v30m0 29v34m0 29v39m0 124v18m0 43v34m0 37v39m1 -447v12m0 36v27m0 37v41m0 189v38m0 38v38m1 -426v37m0 61v27m0 194v38m0 38v42m1 -450v47m0 35v7m0 39v28m0 185v35m0 39v46m1 -464v47m0 31v14m0 40v33m0 189v33m0 39v47m1 -472v40m0 27v16m0 52v29m0 197v34m0 40v45m1 -474v17m0 21v36m0 288v36m0 42v41m1 -498v12m0 32v45m0 183v25m0 91v35m0 45v38m1 -519v30m0 23v44m0 41v10m0 140v31m0 92v32m0 48v38m1 -529v25m0 28v34m0 208v31m0 99v23m0 53v38m1 -495v26m0 35v20m0 180v27m0 109v12m0 60v33m1 -518v40m0 29v28m0 40v14m0 134v28m0 50v5m0 133v19m1 -527v46m0 30v22m0 42v28m0 130v32m0 41v19m1 -393v45m0 101v29m0 132v33m0 40v24m0 54v5m1 -462v32m0 17v27m0 83v20m0 136v29m0 40v31m0 52v6m1 -476v13m0 27v42m0 89v25m0 133v21m0 42v37m1 -443v25m0 25v44m0 94v31m0 139v7m0 46v42m1 -455v24m0 26v39m0 106v30m0 194v46m1 -463v17m0 27v22m0 33v22m0 85v18m0 201v46m1 -443v33m0 30v35m0 307v46m0 51v15m1 -529v45m0 30v33m0 318v44m0 49v24m1 -547v45m0 393v45m0 47v30m1 -561v36m0 87v11m0 198v18m0 97v46m0 46v34m1 -575v21m0 25v34m0 43v20m0 197v22m0 95v47m0 47v33m1 -593v23m0 26v41m0 54v2m0 56v10m0 144v23m0 97v45m0 52v28m1 -603v24m0 25v38m0 117v21m0 84v7m0 51v21m0 100v43m0 58v18m1 -607v20m0 27v17m0 40v9m0 99v18m0 88v3m0 54v21m0 104v37m1 -508v27m0 35v34m0 99v10m0 148v24m0 108v28m1 -528v42m0 35v35m0 105v14m0 143v27m0 45v21m0 50v13m1 -533v42m0 181v24m0 137v28m0 43v28m1 -483v35m0 85v20m0 89v26m0 138v26m0 42v33m1 -497v23m0 28v25m0 46v30m0 90v19m0 146v20m0 44v36m1 -515v24m0 26v36m0 50v27m0 265v9m0 49v38m1 -524v23m0 24v35m0 74v8m0 329v41m1 -534v21m0 29v7m0 110v8m0 324v45m1 -537v42m0 43v24m0 52v19m0 132v21m0 166v48m1 -543v40m0 39v29m0 56v18m0 133v23m0 165v50m1 -555v41m0 285v22m0 165v52m1 -564v35m0 300v19m0 168v51m1 -578v22m0 31v17m0 56v28m0 96v14m0 84v18m0 52v11m0 108v50m1 -592v22m0 25v34m0 53v32m0 96v14m0 85v19m0 47v19m0 106v48m1 -600v22m0 23v33m0 71v22m0 102v6m0 88v22m0 44v24m0 106v44m1 -607v20m0 143v16m0 196v22m0 44v25m0 109v32m1 -598v35m0 49v14m0 61v23m0 193v21m0 44v25m0 114v19m1 -597v38m0 42v25m0 58v28m0 193v18m0 46v23m0 54v11m0 57v4m1 -598v39m0 54v8m0 70v28m0 198v11m0 52v18m0 53v19m1 -550v36m0 145v22m0 138v10m0 120v12m0 54v25m1 -568v18m0 30v16m0 136v12m0 136v24m0 178v29m1 -582v20m0 24v33m0 60v21m0 200v28m0 173v34m1 -593v20m0 26v30m0 70v21m0 200v28m0 171v38m1 -602v17m0 148v4m0 204v28m0 169v35m1 -596v30m0 133v11m0 198v28m0 169v27m1 -598v37m0 43v23m0 65v22m0 192v28m0 169v19m1 -598v38m0 48v21m0 65v30m0 188v27m0 170v11m1 -597v35m0 143v32m0 186v29m0 170v2m1 -605v15m0 27v21m0 131v31m0 187v29m0 49v8m1 -500v19m0 24v32m0 131v28m0 188v29m0 45v17m1 -513v19m0 28v31m0 67v7m0 64v23m0 192v28m0 43v21m1 -521v18m0 206v18m0 197v26m0 42v25m0 50v14m1 -588v32m0 194v12m0 141v15m0 47v23m0 43v26m0 48v16m1 -598v38m0 45v13m0 141v7m0 138v27m0 44v19m0 44v27m0 46v9m1 -597v38m0 47v22m0 279v34m0 44v13m0 46v28m0 45v1m1 -580v24m0 57v13m0 77v13m0 192v38m0 46v4m0 52v26m1 -569v15m0 27v23m0 137v22m0 187v39m0 102v25m1 -577v17m0 27v32m0 131v27m0 186v40m0 103v21m1 -584v17m0 33v31m0 132v31m0 185v39m0 106v17m1 -583v17m0 38v21m0 136v33m0 185v39m0 109v10m1 -586v31m0 187v34m0 185v37m1 -474v37m0 125v6m0 59v33m0 187v35m1 -478v36m0 50v8m0 72v21m0 45v31m0 190v32m1 -463v18m0 50v19m0 67v25m0 41v27m0 195v27m1 -505v15m0 30v18m0 49v22m0 66v26m0 41v21m0 201v21m1 -510v17m0 32v25m0 48v21m0 67v26m0 43v13m0 144v14m0 53v10m1 -511v16m0 36v30m0 50v16m0 69v26m0 196v21m1 -452v19m0 33v30m0 135v26m0 195v25m1 -462v30m0 32v27m0 136v25m0 194v27m1 -469v37m0 35v21m0 139v23m0 195v28m1 -469v35m0 44v8m0 144v22m0 195v29m1 -497v6m0 26v29m0 199v19m0 197v29m1 -507v15m0 31v22m0 204v14m0 201v27m1 -514v20m0 37v15m0 423v26m1 -517v21m0 479v23m1 -514v15m0 486v18m1 -510v8m0 495v11"/><path stroke="#0000c2" d="M24 6v15m0 491v7m1 -517v16m0 483v14m1 -515v13m0 37v14m0 428v17m1 -472v23m0 423v19m1 -477v29m0 205v11m0 205v20m1 -480v32m0 47v3m0 152v15m0 203v19m1 -473v25m0 39v18m0 146v16m0 203v17m1 -463v11m0 41v23m0 143v17m0 205v13m1 -464v12m0 42v24m0 142v18m1 -241v15m0 37v18m0 145v16m1 -231v13m0 37v7m0 151v12m0 52v11m0 214v6m1 -460v4m0 213v19m0 203v18m1 -482v29m0 203v24m0 197v24m1 -484v34m0 195v27m0 193v29m1 -477v26m0 193v28m0 191v32m1 -410v3m0 148v27m0 191v33m1 -474v15m0 38v25m0 138v25m0 191v34m1 -466v16m0 31v26m0 138v20m0 192v34m0 113v7m1 -575v12m0 32v15m0 147v10m0 197v33m0 110v13m1 -533v5m0 364v31m0 109v17m1 -552v34m0 355v25m0 112v18m1 -546v35m0 352v16m0 116v19m0 56v3m1 -595v27m0 417v13m0 52v18m1 -536v10m0 432v17m0 52v15m1 -529v17m0 33v24m0 147v13m0 201v20m0 54v8m1 -517v17m0 29v26m0 137v21m0 196v21m1 -444v11m0 37v7m0 141v25m0 194v21m1 -425v25m0 152v26m0 193v21m1 -421v35m0 140v22m0 196v20m0 176v8m1 -596v33m0 52v9m0 78v10m0 203v18m0 177v16m1 -593v24m0 350v19m0 176v24m1 -605v14m0 364v19m0 177v31m1 -607v19m0 30v23m0 300v18m0 179v31m1 -600v19m0 28v26m0 292v15m0 183v26m1 -584v12m0 345v4m0 191v20m1 -566v31m0 153v13m0 345v11m1 -554v37m0 136v21m1 -193v36m0 48v14m0 67v22m0 266v11m1 -458v23m0 133v14m0 203v9m0 55v15m0 126v12m1 -605v16m0 363v11m0 53v16m0 119v27m1 -607v20m0 28v26m0 300v8m0 56v13m0 116v36m1 -603v20m0 30v28m0 62v22m0 393v41m1 -588v14m0 115v17m0 390v45m1 -578v31m0 492v46m1 -569v37m0 295v6m0 176v46m1 -558v36m0 45v20m0 220v9m0 173v46m1 -531v12m0 54v13m0 65v5m0 329v43m1 -552v19m0 483v39m1 -541v22m0 28v28m0 418v35m1 -529v20m0 31v31m0 58v17m0 330v32m1 -510v16m0 36v17m0 54v22m0 266v6m0 55v28m1 -498v31m0 200v16m0 148v17m0 51v24m1 -488v40m0 187v13m0 147v20m0 51v18m1 -472v38m0 40v27m0 271v19m1 -377v19m0 42v26m0 265v15m0 120v14m1 -533v16m0 362v11m0 114v28m1 -533v22m0 30v32m0 126v9m0 154v10m0 109v35m1 -525v20m0 31v37m0 274v12m0 105v39m1 -504v12m0 32v29m0 50v10m0 207v12m0 103v41m0 57v18m1 -572v31m0 417v40m0 55v20m1 -563v42m0 398v39m0 56v17m1 -547v41m0 36v25m0 325v39m1 -453v27m0 36v29m0 313v40m1 -476v14m0 36v10m0 45v11m0 311v41m1 -470v22m0 31v33m0 113v23m0 199v41m1 -460v21m0 31v40m0 99v25m0 197v37m1 -394v38m0 96v15m0 144v10m0 50v31m1 -421v25m0 29v15m0 247v23m0 47v22m1 -409v41m0 107v22m0 138v27m0 48v14m1 -394v43m0 36v11m0 51v22m0 136v26m1 -317v35m0 34v22m0 194v22m1 -288v16m0 47v3m0 193v19m0 192v17m1 -535v19m0 35v27m0 216v23m0 111v7m0 67v25m1 -530v24m0 30v39m0 197v24m0 100v22m0 58v27m1 -463v40m0 190v15m0 99v29m0 52v29m1 -442v29m0 295v29m0 48v34m1 -481v35m0 102v21m0 204v27m0 47v38m1 -476v44m0 89v28m0 195v26m0 46v41m1 -465v43m0 87v20m0 192v29m0 45v39m1 -437v26m0 289v32m0 44v36m1 -412v19m0 44v35m0 195v32m0 44v32m1 -460v25m0 35v29m0 33v35m0 190v28m0 44v31m1 -449v20m0 43v32m0 32v23m0 127v18m0 47v20m0 46v33m1 -369v36m0 163v17m0 47v17m0 48v33m1 -394v5m0 39v41m0 140v15m0 47v18m0 50v27m1 -395v34m0 31v34m0 124v25m0 49v12m0 56v16m1 -383v45m0 34v16m0 122v30m1 -229v36m0 160v27m1 -208v31m0 31v27m0 92v14m0 184v9m1 -380v26m0 26v32m0 75v15m0 186v11m1 -437v19m0 56v18m0 32v22m0 68v22m0 174v21m1 -432v17m0 63v35m0 281v32m1 -347v44m0 35v20m0 205v38m1 -339v44m0 35v19m0 196v36m1 -324v39m0 241v34m1 -347v28m0 33v26m0 216v34m1 -341v45m0 26v32m0 194v37m1 -331v46m0 25v29m0 186v38m1 -315v38m0 235v32m1 -283v27m0 218v25m1 -357v7m0 83v38m0 194v25m1 -256v38m0 184v28m0 52v8m1 -378v8m0 70v24m0 48v23m0 115v19m0 55v6m1 -281v31m0 39v16m0 178v6m1 -273v45m0 202v25m1 -270v51m0 181v35m1 -259v51m0 166v34m1 -277v30m0 25v24m0 157v30m1 -272v44m0 185v33m1 -264v51m0 169v38m1 -254v51m0 160v36m1 -219v28m0 152v26m1 -320v4m0 115v28m0 135v26m1 -309v8m0 112v38m0 114v32m0 45v12m1 -307v18m0 55v41m0 101v27m0 40v26m1 -308v13m0 68v36m0 158v23m1 -208v29m0 141v29m1 -186v33m0 55v15m0 40v40m1 -180v37m0 97v42m1 -272v24m0 39v16m0 25v28m0 94v36m1 -260v14m0 48v23m0 125v39m1 -183v37m0 41v9m0 45v47m1 -176v44m0 83v45m1 -169v43m0 81v33m1 -149v42m0 54v40m1 -126v45m0 30v54m1 -127v46m0 29v81m1 -153v44m0 85v14m1 -302v14m0 155v71m0 20v37m1 -299v19m0 152v131m1 -302v14m0 148v140m1 -140v68m0 8v58m1 -127v114m1 -261v25m0 123v111m1 -259v23m0 125v110m1 -106v100m1 -87v73m1 -260v12m0 178v68m1 -258v12m0 178v68m1 -71v73m1 -86v100m1 -252v23m0 125v110m1 -258v25m0 123v111m1 -112v114m1 -121v68m0 8v58m1 -296v14m0 148v140m1 -302v19m0 152v131m1 -300v14m0 155v71m0 20v37m1 -138v44m0 85v14m1 -146v46m0 29v81m1 -158v45m0 30v54m1 -139v42m0 54v40m1 -144v43m0 81v33m1 -160v44m0 83v45m1 -175v37m0 41v9m0 45v47m1 -245v14m0 48v23m0 125v39m1 -251v24m0 39v16m0 25v28m0 94v36m1 -166v37m0 97v42m1 -179v33m0 55v15m0 40v40m1 -196v29m0 141v29m1 -289v13m0 68v36m0 158v23m1 -298v18m0 55v41m0 101v27m0 40v26m1 -362v8m0 112v38m0 114v32m0 45v12m1 -360v4m0 115v28m0 135v26m1 -194v28m0 152v26m1 -234v51m0 160v36m1 -251v51m0 169v38m1 -256v44m0 185v33m1 -256v30m0 25v24m0 157v30m1 -240v51m0 166v34m1 -259v51m0 181v35m1 -269v45m0 202v25m1 -269v31m0 39v16m0 178v6m1 -357v8m0 70v24m0 48v23m0 115v19m0 55v6m1 -300v38m0 184v28m0 52v8m1 -401v7m0 83v38m0 194v25m1 -260v27m0 218v25m1 -292v38m0 235v32m1 -314v46m0 25v29m0 186v38m1 -327v45m0 26v32m0 194v37m1 -330v28m0 33v26m0 216v34m1 -304v39m0 241v34m1 -320v44m0 35v19m0 196v36m1 -333v44m0 35v20m0 205v38m1 -423v17m0 63v35m0 281v32m1 -428v19m0 56v18m0 32v22m0 68v22m0 174v21m1 -366v26m0 26v32m0 75v15m0 186v11m1 -379v31m0 31v27m0 92v14m0 184v9m1 -403v36m0 160v27m1 -241v45m0 34v16m0 122v30m1 -245v34m0 31v34m0 124v25m0 49v12m0 56v16m1 -368v5m0 39v41m0 140v15m0 47v18m0 50v27m1 -349v36m0 163v17m0 47v17m0 48v33m1 -433v20m0 43v32m0 32v23m0 127v18m0 47v20m0 46v33m1 -442v25m0 35v29m0 33v35m0 190v28m0 44v31m1 -391v19m0 44v35m0 195v32m0 44v32m1 -416v26m0 289v32m0 44v36m1 -445v43m0 87v20m0 192v29m0 45v39m1 -459v44m0 89v28m0 195v26m0 46v41m1 -467v35m0 102v21m0 204v27m0 47v38m1 -428v29m0 295v29m0 48v34m1 -447v40m0 190v15m0 99v29m0 52v29m1 -512v24m0 30v39m0 197v24m0 100v22m0 58v27m1 -521v19m0 35v27m0 216v23m0 111v7m0 67v25m1 -482v16m0 47v3m0 193v19m0 192v17m1 -506v35m0 34v22m0 194v22m1 -315v43m0 36v11m0 51v22m0 136v26m1 -328v41m0 107v22m0 138v27m0 48v14m1 -396v25m0 29v15m0 247v23m0 47v22m1 -371v38m0 96v15m0 144v10m0 50v31m1 -440v21m0 31v40m0 99v25m0 197v37m1 -452v22m0 31v33m0 113v23m0 199v41m1 -460v14m0 36v10m0 45v11m0 311v41m1 -437v27m0 36v29m0 313v40m1 -458v41m0 36v25m0 325v39m1 -471v42m0 398v39m0 56v17m1 -552v31m0 417v40m0 55v20m1 -562v12m0 32v29m0 50v10m0 207v12m0 103v41m0 57v18m1 -585v20m0 31v37m0 274v12m0 105v39m1 -520v22m0 30v32m0 126v9m0 154v10m0 109v35m1 -525v16m0 362v11m0 114v28m1 -499v19m0 42v26m0 265v15m0 120v14m1 -519v38m0 40v27m0 271v19m1 -399v40m0 187v13m0 147v20m0 51v18m1 -475v31m0 200v16m0 148v17m0 51v24m1 -489v16m0 36v17m0 54v22m0 266v6m0 55v28m1 -509v20m0 31v31m0 58v17m0 330v32m1 -521v22m0 28v28m0 418v35m1 -531v19m0 483v39m1 -510v12m0 54v13m0 65v5m0 329v43m1 -539v36m0 45v20m0 220v9m0 173v46m1 -551v37m0 295v6m0 176v46m1 -560v31m0 492v46m1 -572v14m0 115v17m0 390v45m1 -589v20m0 30v28m0 62v22m0 393v41m1 -596v20m0 28v26m0 300v8m0 56v13m0 116v36m1 -601v16m0 363v11m0 53v16m0 119v27m1 -590v23m0 133v14m0 203v9m0 55v15m0 126v12m1 -596v36m0 48v14m0 67v22m0 266v11m1 -465v37m0 136v21m1 -193v31m0 153v13m0 345v11m1 -559v12m0 345v4m0 191v20m1 -577v19m0 28v26m0 292v15m0 183v26m1 -589v19m0 30v23m0 300v18m0 179v31m1 -598v14m0 364v19m0 177v31m1 -593v24m0 350v19m0 176v24m1 -596v33m0 52v9m0 78v10m0 203v18m0 177v16m1 -597v35m0 140v22m0 196v20m0 176v8m1 -593v25m0 152v26m0 193v21m1 -428v11m0 37v7m0 141v25m0 194v21m1 -439v17m0 29v26m0 137v21m0 196v21m1 -447v17m0 33v24m0 147v13m0 201v20m0 54v8m1 -514v10m0 432v17m0 52v15m1 -517v27m0 417v13m0 52v18m1 -529v35m0 352v16m0 116v19m0 56v3m1 -595v34m0 355v25m0 112v18m1 -518v5m0 364v31m0 109v17m1 -562v12m0 32v15m0 147v10m0 197v33m0 110v13m1 -571v16m0 31v26m0 138v20m0 192v34m0 113v7m1 -577v15m0 38v25m0 138v25m0 191v34m1 -394v3m0 148v27m0 191v33m1 -462v26m0 193v28m0 191v32m1 -471v34m0 195v27m0 193v29m1 -471v29m0 203v24m0 197v24m1 -452v4m0 213v19m0 203v18m1 -500v13m0 37v7m0 151v12m0 52v11m0 214v6m1 -503v15m0 37v18m0 145v16m1 -228v12m0 42v24m0 142v18m1 -227v11m0 41v23m0 143v17m0 205v13m1 -454v25m0 39v18m0 146v16m0 203v17m1 -462v32m0 47v3m0 152v15m0 203v19m1 -461v29m0 205v11m0 205v20m1 -458v23m0 423v19m1 -502v13m0 37v14m0 428v17m1 -507v16m0 483v14m1 -509v15m0 491v7"/><path stroke="#0000d6" d="M24 9v8m1 -15v14m1 -14v10m1 28v17m1 -30v25m0 431v4m1 -469v27m1 -30v21m0 48v3m1 -18v16m1 -81v7m0 49v17m1 -77v14m0 42v10m1 -64v10m1 252v11m0 216v1m1 -471v24m0 208v17m0 205v16m1 -478v30m0 200v21m0 200v21m1 -471v22m0 198v22m0 197v26m1 -253v21m0 197v27m1 -469v11m0 43v18m0 146v18m0 196v29m1 -463v15m0 34v21m0 146v10m0 200v28m1 -452v10m0 406v27m1 -34v23m1 -421v31m0 362v16m0 124v2m1 -536v31m0 493v4m1 -526v23m2 -37v16m0 38v15m0 372v8m1 -449v16m0 32v21m0 145v12m0 205v11m1 -438v8m0 191v18m0 202v11m1 -239v18m0 203v10m1 -414v31m0 147v12m0 207v8m0 185v5m1 -595v31m0 359v6m0 186v13m1 -589v16m0 362v3m0 187v21m1 -604v10m0 376v1m0 189v28m1 -607v18m0 34v15m0 506v23m1 -596v17m0 33v20m0 498v15m1 -576v6m1 0v26m1 -28v34m0 143v12m1 -187v32m0 136v12m1 -168v8m1 -31v14m0 569v18m1 -603v19m0 33v17m0 502v28m1 -597v17m0 34v22m0 75v2m0 406v35m1 -46v39m1 -573v27m0 497v41m1 -566v35m0 480v42m1 -554v32m0 54v5m0 413v40m1 -48v38m1 -547v15m0 488v33m1 -538v20m0 34v20m0 425v29m1 -526v18m0 35v26m0 412v24m1 -448v5m0 65v13m0 335v19m1 -492v28m0 439v14m1 -482v37m0 355v8m1 -395v34m0 46v18m0 282v6m1 -365v10m0 50v18m1 -115v15m0 493v18m1 -528v21m0 33v26m0 415v29m1 -521v17m0 35v33m0 396v33m1 -455v24m0 388v35m1 -492v26m0 422v35m1 -483v38m0 402v34m1 -469v37m0 43v15m0 332v34m1 -448v23m0 41v23m0 318v35m1 -472v10m0 418v37m1 -466v18m0 36v27m0 120v14m0 207v35m1 -456v17m0 35v37m0 104v18m0 204v32m1 -389v33m0 320v24m1 -413v16m0 300v15m0 56v12m1 -402v37m0 114v12m0 146v21m1 -327v39m0 104v14m0 143v19m1 -311v31m0 40v14m0 203v12m1 -18v8m1 -320v14m0 42v21m0 224v14m1 -315v19m0 36v35m0 203v16m0 110v10m0 71v12m1 -453v36m0 310v21m0 61v18m1 -432v22m0 301v22m0 56v25m1 -474v31m0 108v13m0 212v19m0 54v32m1 -471v40m0 94v22m0 202v19m0 52v34m1 -459v39m0 93v12m0 199v23m0 51v33m1 -429v17m0 295v28m0 49v29m1 -403v10m0 50v31m0 199v27m0 51v24m1 -455v20m0 42v23m0 38v31m0 195v21m0 51v24m1 -444v14m0 50v28m0 37v16m0 137v6m0 58v10m0 54v27m1 -363v29m0 299v26m1 -343v35m0 212v5m0 60v19m1 -388v29m0 36v29m0 130v18m1 -243v38m0 177v26m1 -222v28m0 166v21m1 -202v24m0 38v21m1 -75v20m0 31v28m1 -148v17m0 64v5m0 44v12m0 79v11m1 -232v15m0 69v26m0 290v24m1 -341v40m0 41v11m0 214v30m1 -333v41m0 41v7m0 206v30m1 -318v33m0 248v26m1 -337v15m0 286v26m1 -334v40m0 30v27m0 200v31m1 -326v42m0 30v23m0 192v32m1 -308v31m0 241v25m1 -271v10m0 232v15m1 -350v1m0 90v32m0 202v15m1 -248v31m0 193v18m1 -228v10m0 61v12m1 -78v25m1 -29v41m0 211v11m1 -261v47m0 187v26m1 -249v43m0 173v26m1 -269v22m0 34v15m0 166v19m1 -265v41m0 192v23m1 -257v47m0 175v30m1 -247v45m0 166v29m1 -209v17m0 162v15m1 -191v20m0 145v13m1 -301v4m0 119v29m0 122v24m1 -168v34m0 108v18m0 53v11m1 -216v30m1 -20v19m0 152v17m1 -173v21m0 118v33m1 -171v29m0 103v35m1 -264v16m0 90v17m0 103v28m1 -189v10m0 137v30m1 -174v28m0 103v40m1 -169v38m0 89v38m1 -162v38m0 88v22m1 -140v35m0 64v27m1 -116v39m0 36v43m1 -116v40m0 36v34m1 -107v36m1 -194v5m0 167v56m0 38v21m1 -293v17m0 161v121m1 -297v7m0 159v69m0 15v47m1 -132v38m0 43v44m1 -120v109m1 -255v18m0 128v108m1 -254v16m0 130v107m1 -103v96m1 -83v69m1 -258v9m0 182v66m1 -257v9m0 182v66m1 -68v69m1 -82v96m1 -246v16m0 130v107m1 -253v18m0 128v108m1 -108v109m1 -114v38m0 43v44m1 -290v7m0 159v69m0 15v47m1 -299v17m0 161v121m1 -293v5m0 167v56m0 38v21m1 -129v36m1 -39v40m0 36v34m1 -112v39m0 36v43m1 -128v35m0 64v27m1 -134v38m0 88v22m1 -151v38m0 89v38m1 -167v28m0 103v40m1 -174v10m0 137v30m1 -242v16m0 90v17m0 103v28m1 -157v29m0 103v35m1 -168v21m0 118v33m1 -187v19m0 152v17m1 -198v30m1 -38v34m0 108v18m0 53v11m1 -354v4m0 119v29m0 122v24m1 -175v20m0 145v13m1 -181v17m0 162v15m1 -225v45m0 166v29m1 -245v47m0 175v30m1 -251v41m0 192v23m1 -247v22m0 34v15m0 166v19m1 -229v43m0 173v26m1 -253v47m0 187v26m1 -262v41m0 211v11m1 -259v25m1 -30v10m0 61v12m1 -97v31m0 193v18m1 -334v1m0 90v32m0 202v15m1 -247v10m0 232v15m1 -283v31m0 241v25m1 -308v42m0 30v23m0 192v32m1 -321v40m0 30v27m0 200v31m1 -321v15m0 286v26m1 -297v33m0 248v26m1 -314v41m0 41v7m0 206v30m1 -328v40m0 41v11m0 214v30m1 -419v15m0 69v26m0 290v24m1 -424v17m0 64v5m0 44v12m0 79v11m1 -163v20m0 31v28m1 -87v24m0 38v21m1 -96v28m0 166v21m1 -234v38m0 177v26m1 -240v29m0 36v29m0 130v18m1 -185v35m0 212v5m0 60v19m1 -342v29m0 299v26m1 -428v14m0 50v28m0 37v16m0 137v6m0 58v10m0 54v27m1 -438v20m0 42v23m0 38v31m0 195v21m0 51v24m1 -382v10m0 50v31m0 199v27m0 51v24m1 -407v17m0 295v28m0 49v29m1 -439v39m0 93v12m0 199v23m0 51v33m1 -454v40m0 94v22m0 202v19m0 52v34m1 -461v31m0 108v13m0 212v19m0 54v32m1 -421v22m0 301v22m0 56v25m1 -440v36m0 310v21m0 61v18m1 -505v19m0 36v35m0 203v16m0 110v10m0 71v12m1 -512v14m0 42v21m0 224v14m1 -3v8m1 -290v31m0 40v14m0 203v12m1 -308v39m0 104v14m0 143v19m1 -322v37m0 114v12m0 146v21m1 -327v16m0 300v15m0 56v12m1 -363v33m0 320v24m1 -435v17m0 35v37m0 104v18m0 204v32m1 -448v18m0 36v27m0 120v14m0 207v35m1 -456v10m0 418v37m1 -433v23m0 41v23m0 318v35m1 -453v37m0 43v15m0 332v34m1 -466v38m0 402v34m1 -474v26m0 422v35m1 -438v24m0 388v35m1 -506v17m0 35v33m0 396v33m1 -517v21m0 33v26m0 415v29m1 -522v15m0 493v18m1 -489v10m0 50v18m1 -99v34m0 46v18m0 282v6m1 -391v37m0 355v8m1 -399v28m0 439v14m1 -426v5m0 65v13m0 335v19m1 -504v18m0 35v26m0 412v24m1 -517v20m0 34v20m0 425v29m1 -526v15m0 488v33m1 -27v38m1 -534v32m0 54v5m0 413v40m1 -547v35m0 480v42m1 -556v27m0 497v41m1 -31v39m1 -584v17m0 34v22m0 75v2m0 406v35m1 -593v19m0 33v17m0 502v28m1 -597v14m0 569v18m1 -578v8m1 -20v32m0 136v12m1 -182v34m0 143v12m1 -187v26m1 -32v6m1 -13v17m0 33v20m0 498v15m1 -583v18m0 34v15m0 506v23m1 -593v10m0 376v1m0 189v28m1 -589v16m0 362v3m0 187v21m1 -595v31m0 359v6m0 186v13m1 -595v31m0 147v12m0 207v8m0 185v5m1 -412v18m0 203v10m1 -422v8m0 191v18m0 202v11m1 -434v16m0 32v21m0 145v12m0 205v11m1 -442v16m0 38v15m0 372v8m2 -435v23m1 -25v31m0 493v4m1 -527v31m0 362v16m0 124v2m1 -137v23m1 -432v10m0 406v27m1 -445v15m0 34v21m0 146v10m0 200v28m1 -452v11m0 43v18m0 146v18m0 196v29m1 -237v21m0 197v27m1 -457v22m0 198v22m0 197v26m1 -466v30m0 200v21m0 200v21m1 -464v24m0 208v17m0 205v16m1 -227v11m0 216v1m1 -490v10m1 -12v14m0 42v10m1 -62v7m0 49v17m1 -8v16m1 -70v21m0 48v3m1 -69v27m1 -18v25m0 431v4m1 -447v17m1 -55v10m1 -10v14m1 -7v8"/><path stroke="#0000eb" d="M25 3v11m1 -12v8m1 35v7m1 -22v19m1 -29v23m1 -26v17m2 32v5m1 -69v11m1 -11v8m2 15v16m0 217v7m1 -250v26m0 206v13m0 208v13m1 -465v18m0 204v15m0 204v19m1 -246v14m0 203v21m1 -466v9m0 50v8m0 156v8m0 204v23m1 -460v13m0 40v13m0 363v22m1 -448v7m0 411v21m1 -27v15m1 -415v27m1 -29v29m1 -26v19m2 -33v12m1 -12v13m0 37v13m1 143v8m1 -16v8m1 -195v28m0 564v2m1 -594v28m0 556v10m1 -584v6m0 560v18m1 -603v7m0 572v20m1 -603v16m0 562v12m1 -588v14m0 38v11m2 -49v20m1 -24v32m1 -30v29m2 -41v12m1 -14v18m0 40v4m0 513v19m1 -592v15m0 40v13m0 492v28m1 -40v33m1 -568v23m0 501v36m1 -562v32m0 485v36m1 -550v30m0 475v36m1 -43v32m1 -544v14m0 492v27m1 -535v19m0 40v9m0 434v22m1 -521v15m0 40v20m0 419v16m1 -19v5m1 -483v24m1 -25v33m1 -28v31m1 54v6m1 -108v12m1 -13v17m0 38v20m0 422v21m1 -517v14m0 40v29m0 401v27m1 -449v18m0 394v29m1 -487v22m0 427v30m1 -480v35m0 407v29m1 -465v33m0 395v29m1 -443v17m0 48v16m0 324v30m1 -468v5m0 424v31m1 -463v16m0 40v21m0 347v31m1 -452v10m0 42v33m0 111v8m0 212v26m1 -384v29m0 325v17m1 -403v3m1 -11v34m0 278v13m1 -322v36m0 267v11m1 -305v27m2 -58v8m0 51v13m1 -72v11m0 44v32m1 -27v32m0 318v9m1 -343v14m0 310v12m0 66v15m1 -467v27m0 341v8m0 63v24m1 -465v37m0 97v17m0 211v7m0 61v28m1 -454v35m0 310v15m0 58v27m1 -111v22m0 56v21m1 -336v25m0 205v22m0 57v15m1 -448v11m0 51v19m0 42v27m0 201v14m0 59v15m1 -373v23m0 45v5m0 274v19m1 -356v22m0 307v18m1 -337v30m1 -86v23m0 41v25m0 138v6m1 -233v32m0 182v20m1 -215v20m0 174v14m1 -196v18m0 45v13m1 -68v13m0 38v23m1 -145v13m1 -13v12m0 75v16m0 303v11m1 -333v37m0 270v23m1 -328v38m0 260v22m1 -312v29m0 254v17m1 -27v18m1 -328v36m0 35v21m0 206v25m1 -321v38m0 36v16m0 198v26m1 -302v25m0 248v17m2 -266v25m1 -24v25m2 -4v17m1 -23v36m1 -34v42m0 194v16m1 -240v36m0 181v16m1 -260v13m1 -24v37m0 200v11m1 -249v43m0 180v24m1 -241v38m0 174v21m2 -197v9m1 -9v20m0 131v14m1 -159v27m1 -20v24m2 141v26m1 -164v22m0 110v28m1 -255v4m0 222v16m1 -30v19m1 -164v18m0 111v34m1 -164v33m0 95v31m1 -156v33m1 -23v26m1 -16v32m0 43v34m1 -109v35m0 43v23m1 -96v28m1 -10v40m1 -225v13m0 171v55m0 18v39m1 -113v48m0 24v41m1 -44v36m1 -113v38m0 9v55m1 -248v10m0 133v105m1 -248v8m0 135v104m1 -99v92m1 -79v65m1 -255v6m0 185v64m1 -255v6m0 185v64m1 -65v65m1 -78v92m1 -240v8m0 135v104m1 -247v10m0 133v105m1 -102v38m0 9v55m1 -25v36m1 -105v48m0 24v41m1 -296v13m0 171v55m0 18v39m1 -111v40m1 -58v28m1 -33v35m0 43v23m1 -101v32m0 43v34m1 -119v26m1 -36v33m1 -36v33m0 95v31m1 -158v18m0 111v34m1 -18v19m1 -231v4m0 222v16m1 -147v22m0 110v28m1 -22v26m2 -191v24m1 -31v27m1 -33v20m0 131v14m1 -165v9m2 -45v38m0 174v21m1 -239v43m0 180v24m1 -246v37m0 200v11m1 -237v13m1 14v36m0 181v16m1 -245v42m0 194v16m1 -254v36m1 -30v17m2 -38v25m1 -26v25m2 -49v25m0 248v17m1 -302v38m0 36v16m0 198v26m1 -316v36m0 35v21m0 206v25m1 -13v18m1 -291v29m0 254v17m1 -308v38m0 260v22m1 -322v37m0 270v23m1 -414v12m0 75v16m0 303v11m1 -417v13m1 58v13m0 38v23m1 -82v18m0 45v13m1 -88v20m0 174v14m1 -227v32m0 182v20m1 -234v23m0 41v25m0 138v6m1 -177v30m1 -40v22m0 307v18m1 -357v23m0 45v5m0 274v19m1 -432v11m0 51v19m0 42v27m0 201v14m0 59v15m1 -315v25m0 205v22m0 57v15m1 -87v22m0 56v21m1 -433v35m0 310v15m0 58v27m1 -449v37m0 97v17m0 211v7m0 61v28m1 -456v27m0 341v8m0 63v24m1 -413v14m0 310v12m0 66v15m1 -433v32m0 318v9m1 -419v11m0 44v32m1 -87v8m0 51v13m2 -41v27m1 -36v36m0 267v11m1 -317v34m0 278v13m1 -317v3m1 29v29m0 325v17m1 -429v10m0 42v33m0 111v8m0 212v26m1 -445v16m0 40v21m0 347v31m1 -452v5m0 424v31m1 -427v17m0 48v16m0 324v30m1 -449v33m0 395v29m1 -463v35m0 407v29m1 -470v22m0 427v30m1 -433v18m0 394v29m1 -503v14m0 40v29m0 401v27m1 -512v17m0 38v20m0 422v21m1 -517v12m1 90v6m1 -91v31m1 -36v33m1 -32v24m1 454v5m1 -496v15m0 40v20m0 419v16m1 -513v19m0 40v9m0 434v22m1 -522v14m0 492v27m1 -21v32m1 -530v30m0 475v36m1 -544v32m0 485v36m1 -551v23m0 501v36m1 -25v33m1 -581v15m0 40v13m0 492v28m1 -590v18m0 40v4m0 513v19m1 -592v12m2 0v29m1 -31v32m1 -28v20m2 -34v14m0 38v11m1 -65v16m0 562v12m1 -586v7m0 572v20m1 -580v6m0 560v18m1 -594v28m0 556v10m1 -594v28m0 564v2m1 -407v8m1 0v8m1 -214v13m0 37v13m1 -63v12m2 2v19m1 -22v29m1 -27v27m1 373v15m1 -427v7m0 411v21m1 -442v13m0 40v13m0 363v22m1 -449v9m0 50v8m0 156v8m0 204v23m1 -230v14m0 203v21m1 -452v18m0 204v15m0 204v19m1 -461v26m0 206v13m0 208v13m1 -456v16m0 217v7m2 -263v8m1 -8v11m1 53v5m2 -54v17m1 -14v23m1 -13v19m1 -4v7m1 -50v8m1 -7v11"/><path stroke="#0000fb" d="M25 3v8m1 -8v5m2 25v13m1 -24v19m1 -21v10m3 -28v9m1 -8v6m2 22v5m1 -20v23m1 -21v13m0 212v4m0 214v10m1 -21v15m1 -462v6m0 432v16m1 -455v10m0 420v16m1 -444v4m0 417v13m2 -421v23m1 -26v26m1 -21v13m2 -30v11m1 -11v12m3 0v26m1 -26v26m0 560v7m1 -14v14m1 -18v8m1 -595v13m1 -13v13m2 3v15m1 -20v29m1 -27v27m2 -39v9m1 -10v15m1 -14v13m0 549v21m1 -33v27m1 -564v20m0 506v30m1 -558v30m0 488v32m1 -546v26m0 480v30m1 -38v27m1 -540v11m0 497v21m1 -530v16m0 488v14m1 -517v13m0 46v13m2 -58v21m1 -22v31m1 -25v27m2 -46v10m1 -11v16m0 43v11m0 433v9m1 -509v9m0 45v24m0 407v21m1 -442v11m0 400v23m1 -482v17m0 433v24m1 -476v32m0 412v23m1 -460v30m0 398v24m1 -437v11m0 57v4m0 332v25m1 -34v27m1 -460v13m0 45v15m0 353v25m1 -395v29m0 336v20m1 -379v25m0 334v4m2 -403v30m1 -27v33m1 -24v23m3 1v28m1 -23v28m2 -62v23m0 418v15m1 -459v34m0 103v10m0 285v21m1 -448v31m0 389v19m1 -103v14m0 65v11m1 -328v19m0 211v15m1 -306v11m0 48v23m1 -80v18m0 334v5m1 -346v15m1 -5v24m1 -80v17m0 46v20m1 -82v25m0 189v12m1 -206v11m1 0v9m1 48v19m1 -141v8m1 -9v8m1 76v34m0 277v13m1 -321v35m0 266v12m1 -305v25m1 253v4m1 -319v32m0 40v15m0 213v17m1 -315v35m0 41v7m0 207v18m1 -295v19m2 5v19m1 -18v19m2 6v3m1 -15v34m1 -31v38m1 -23v27m2 -68v34m1 -36v41m0 186v14m1 -233v32m0 182v11m4 -182v19m1 -13v17m2 150v16m1 -155v15m0 117v20m3 -51v27m1 -159v29m0 100v25m1 -151v29m1 -17v17m1 -8v25m0 50v26m1 -101v30m0 52v9m1 -84v19m1 7v16m1 -213v8m0 180v46m0 26v32m1 -99v33m0 31v36m1 -37v28m1 -106v26m0 23v47m1 -101v102m1 -103v102m1 -96v88m1 -76v63m1 -62v62m1 -62v62m1 -63v63m1 -75v88m1 -94v102m1 -101v102m1 -97v26m0 23v47m1 -18v28m1 -91v33m0 31v36m1 -293v8m0 180v46m0 26v32m1 -95v16m1 -42v19m1 -26v30m0 52v9m1 -91v25m0 50v26m1 -110v17m1 -29v29m1 -32v29m0 100v25m1 -22v27m3 -128v15m0 117v20m1 -13v16m2 -183v17m1 -23v19m4 -62v32m0 182v11m1 -233v41m0 186v14m1 -239v34m2 7v27m1 -42v38m1 -41v34m1 -22v3m2 -28v19m1 -20v19m2 -43v19m1 -32v35m0 41v7m0 207v18m1 -310v32m0 40v15m0 213v17m1 -2v4m1 -282v25m1 -33v35m0 266v12m1 -316v34m0 277v13m1 -408v8m1 -7v8m1 114v19m1 -76v9m1 -20v11m1 -31v25m0 189v12m1 -227v17m0 46v20m1 -27v24m1 -34v15m1 -26v18m0 334v5m1 -359v11m0 48v23m1 -21v19m0 211v15m1 -7v14m0 65v11m1 -426v31m0 389v19m1 -444v34m0 103v10m0 285v21m1 -450v23m0 418v15m2 -422v28m1 -33v28m3 -52v23m1 -32v33m1 -36v30m2 10v25m0 334v4m1 -369v29m0 336v20m1 -441v13m0 45v15m0 353v25m1 -18v27m1 -422v11m0 57v4m0 332v25m1 -444v30m0 398v24m1 -459v32m0 412v23m1 -465v17m0 433v24m1 -426v11m0 400v23m1 -498v9m0 45v24m0 407v21m1 -509v16m0 43v11m0 433v9m1 -511v10m2 9v27m1 -33v31m1 -30v21m2 -35v13m0 46v13m1 -73v16m0 488v14m1 -517v11m0 497v21m1 -16v27m1 -525v26m0 480v30m1 -540v30m0 488v32m1 -548v20m0 506v30m1 -19v27m1 -577v13m0 549v21m1 -584v15m1 -14v9m2 3v27m1 -29v29m1 -24v15m2 -31v13m1 -13v13m1 574v8m1 -4v14m1 -593v26m0 560v7m1 -593v26m3 -38v12m1 -12v11m2 6v13m1 -18v26m1 -23v23m2 -36v4m0 417v13m1 -436v10m0 420v16m1 -445v6m0 432v16m1 -7v15m1 -447v13m0 212v4m0 214v10m1 -455v23m1 -8v5m2 -33v6m1 -7v9m3 9v10m1 -8v19m1 -8v13m2 -43v5m1 -5v8"/><path stroke="#0000ff" d="M25 4v6m1 -7v4m2 28v9m1 -21v16m1 -17v6m3 -26v9m1 -8v5m3 9v21m1 -19v11m1 423v9m1 -458v4m0 435v12m1 -453v10m0 423v11m1 -441v2m0 422v5m2 -416v21m1 -24v25m1 -20v11m2 -29v10m1 -10v11m3 2v24m1 -24v24m0 563v5m1 -11v11m2 -605v13m1 -13v12m2 6v11m1 -17v28m1 -26v25m2 -38v8m1 -9v14m1 -13v12m0 553v16m1 -30v24m1 -561v18m0 508v28m1 -556v28m0 490v29m1 -543v24m0 482v28m1 -35v24m1 -539v10m0 499v18m1 -528v15m0 493v6m1 -512v11m0 49v8m2 -54v19m1 -21v30m1 -23v25m2 -44v8m1 -10v15m1 -11v5m0 49v22m0 410v16m1 -436v5m0 404v21m1 -480v15m0 436v20m1 -473v31m0 413v20m1 -457v28m0 401v20m1 -432v6m0 397v22m1 -31v24m1 -459v12m0 48v11m0 356v23m1 -393v27m0 338v17m1 -376v22m2 -62v28m1 -26v32m1 -22v21m3 3v26m1 -21v26m2 -60v21m0 423v7m1 -454v32m0 402v16m1 -445v29m0 392v14m1 -98v10m1 -248v15m0 216v10m1 -302v7m0 51v21m1 -77v15m1 -3v9m1 0v21m1 -77v13m0 50v17m1 -79v21m0 194v6m1 -199v3m2 63v15m1 -138v5m1 -5v4m1 79v32m1 -30v34m1 -24v22m2 -60v30m0 43v12m0 216v12m1 -311v33m0 258v14m1 -291v15m2 9v15m1 -14v15m3 -3v32m1 -30v37m1 -20v23m2 -66v33m1 -34v39m0 190v7m1 -227v28m4 16v14m1 -8v12m2 156v8m1 -148v9m0 122v16m3 -48v24m1 -156v26m0 104v21m1 -148v26m1 -12v11m1 -3v21m0 54v22m1 -98v28m1 -19v13m2 -185v4m0 184v42m0 30v29m1 -95v28m0 35v33m1 -33v23m1 -102v21m0 29v43m1 -100v101m1 -101v100m1 -94v85m1 -73v61m1 -61v62m1 -62v62m1 -62v61m1 -73v85m1 -91v100m1 -100v101m1 -94v21m0 29v43m1 -14v23m1 -86v28m0 35v33m1 -290v4m0 184v42m0 30v29m2 -117v13m1 -22v28m1 -27v21m0 54v22m1 -105v11m1 -25v26m1 -29v26m0 104v21m1 -19v24m3 -123v9m0 122v16m1 -7v8m2 -176v12m1 -18v14m4 -58v28m1 -37v39m0 190v7m1 -235v33m2 10v23m1 -40v37m1 -39v32m3 -44v15m1 -16v15m2 -39v15m1 -29v33m0 258v14m1 -307v30m0 43v12m0 216v12m2 -275v22m1 -32v34m1 -36v32m1 -115v4m1 -4v5m1 118v15m2 -81v3m1 -25v21m0 194v6m1 -222v13m0 50v17m1 -24v21m1 -30v9m1 -21v15m1 -17v7m0 51v21m1 -18v15m0 216v10m1 -3v10m1 -347v29m0 392v14m1 -440v32m0 402v16m1 -447v21m0 423v7m2 -417v26m1 -31v26m3 -50v21m1 -31v32m1 -34v28m2 12v22m1 -28v27m0 338v17m1 -439v12m0 48v11m0 356v23m1 -15v24m1 -418v6m0 397v22m1 -442v28m0 401v20m1 -456v31m0 413v20m1 -462v15m0 436v20m1 -421v5m0 404v21m1 -496v5m0 49v22m0 410v16m1 -506v15m1 -13v8m2 11v25m1 -32v30m1 -28v19m2 -33v11m0 49v8m1 -70v15m0 493v6m1 -513v10m0 499v18m1 -12v24m1 -523v24m0 482v28m1 -538v28m0 490v29m1 -545v18m0 508v28m1 -17v24m1 -575v12m0 553v16m1 -582v14m1 -13v8m2 5v25m1 -27v28m1 -22v11m2 -29v12m1 -12v13m2 581v11m1 -592v24m0 563v5m1 -592v24m3 -37v11m1 -11v10m2 8v11m1 -16v25m1 -22v21m2 -34v2m0 422v5m1 -432v10m0 423v11m1 -442v4m0 435v12m1 -2v9m1 -443v11m1 -13v21m3 -35v5m1 -6v9m3 11v6m1 -5v16m1 -4v9m2 -41v4m1 -3v6"/><path stroke="#0010ff" d="M29 27v9m4 -33v6m4 10v17m4 -34v9m3 10v15m1 -20v22m3 -36v9m1 -9v10m3 5v20m1 -20v20m3 -35v12m1 -11v10m3 2v25m1 -22v22m2 -35v4m1 -7v13m1 -11v9m1 545v16m1 -554v12m0 514v22m1 -552v26m0 494v23m1 -538v20m0 487v21m1 -27v16m1 -534v7m0 508v4m1 -521v14m1 -11v7m2 8v14m1 -16v26m1 -19v21m2 -40v3m1 -6v12m1 48v17m1 406v11m1 -471v7m0 444v12m1 -467v27m0 420v11m1 -451v24m0 407v12m1 -22v15m1 -24v17m1 -454v8m0 422v15m1 -388v24m0 347v4m1 -367v17m2 -58v24m1 -22v29m1 -18v15m3 9v21m1 -16v21m2 -55v15m1 -20v30m1 -24v25m3 72v15m1 -69v5m2 15v12m1 -6v11m1 -70v10m3 76v7m3 -49v29m1 -27v31m1 -20v16m2 -54v24m1 -22v28m7 22v28m1 -25v31m1 -7v5m2 -56v29m1 -31v36m1 -24v20m11 158v13m1 -147v20m0 113v8m1 -139v22m2 5v8m0 67v7m1 -86v20m3 5v34m0 38v21m1 -84v16m0 43v27m1 -23v10m1 -88v4m0 41v37m1 -95v98m1 -99v39m0 11v48m1 -91v81m1 -70v59m1 -59v60m1 -60v60m1 -60v59m1 -70v81m1 -88v39m0 11v48m1 -97v98m1 -85v4m0 41v37m1 -4v10m1 -73v16m0 43v27m1 -95v34m0 38v21m3 -118v20m1 -16v8m0 67v7m2 -109v22m1 -24v20m0 113v8m1 -7v13m11 -191v20m1 -32v36m1 -34v29m2 22v5m1 -29v31m1 -34v28m7 -78v28m1 -30v24m2 14v16m1 -27v31m1 -33v29m3 13v7m3 -93v10m1 49v11m1 -17v12m2 -32v5m1 49v15m3 -112v25m1 -31v30m1 -25v15m2 19v21m1 -26v21m3 -45v15m1 -26v29m1 -31v24m2 17v17m1 -25v24m0 347v4m1 -432v8m0 422v15m1 -8v17m1 -8v15m1 -436v24m0 407v12m1 -450v27m0 420v11m1 -454v7m0 444v12m1 -3v11m1 -434v17m1 -77v12m1 -9v3m2 16v21m1 -28v26m1 -24v14m2 -29v7m1 -10v14m1 -12v7m0 508v4m1 -1v16m1 -517v20m0 487v21m1 -533v26m0 494v23m1 -539v12m0 514v22m1 -10v16m1 -570v9m1 -11v13m1 -10v4m2 9v22m1 -25v25m3 -37v10m1 -11v12m3 3v20m1 -20v20m3 -35v10m1 -10v9m3 5v22m1 -17v15m3 -34v9m4 8v17m4 -33v6m4 18v9"/><path stroke="#0025ff" d="M33 4v3m4 15v10m4 -29v6m3 17v5m1 -14v19m3 -33v6m1 -6v7m3 9v16m1 -17v18m3 -34v10m1 -9v9m3 4v23m1 -20v19m3 -36v12m1 -9v6m2 14v2m0 524v12m1 -546v23m0 500v15m1 -532v15m0 494v13m2 -539v2m1 -5v12m3 8v8m1 -12v23m1 -14v15m3 -40v11m1 52v10m3 -52v23m1 -16v20m2 395v7m1 -13v3m1 -379v19m1 -11v10m2 -52v20m1 -18v25m1 -12v7m3 15v16m1 -11v16m2 -49v8m1 -14v26m1 -19v20m3 77v9m11 -53v25m1 -24v29m1 -15v8m2 -47v19m1 -18v24m7 27v23m1 -21v27m3 -54v25m1 -27v32m13 26v13m1 -12v15m3 9v12m3 14v25m0 48v11m1 -17v21m2 -50v30m1 -91v36m0 11v48m1 -95v34m0 17v43m1 -86v75m1 -65v56m1 -58v59m1 -59v59m1 -57v56m1 -66v75m1 -83v34m0 17v43m1 -94v36m0 11v48m1 -34v30m2 -1v21m1 -88v25m0 48v11m3 -110v12m3 -36v15m1 -16v13m13 -71v32m1 -30v25m3 2v27m1 -29v23m7 -74v24m1 -25v19m2 20v8m1 -22v29m1 -30v25m11 19v9m3 -106v20m1 -27v26m1 -20v8m2 25v16m1 -21v16m3 -38v7m1 -20v25m1 -27v20m2 22v10m1 -18v19m1 357v3m1 3v7m2 -422v20m1 -27v23m3 19v10m1 -73v11m3 14v15m1 -24v23m1 -19v8m3 -28v12m1 -9v2m2 15v15m0 494v13m1 -528v23m0 500v15m1 -530v2m0 524v12m2 -558v6m1 -9v12m3 5v19m1 -22v23m3 -36v9m1 -10v10m3 6v18m1 -17v16m3 -32v7m1 -7v6m3 8v19m1 -10v5m3 -28v6m4 13v10m4 -28v3"/><path stroke="#0039ff" d="M41 3v5m4 11v15m3 -30v3m1 -3v5m3 12v11m1 -12v14m3 -31v8m1 -7v6m3 8v19m1 -16v15m3 -33v10m4 5v21m1 -13v9m3 -32v11m4 7v20m1 -9v7m3 -35v8m4 14v19m1 -12v16m4 17v15m3 -48v14m1 -14v22m4 16v9m1 -4v9m3 -51v24m1 -15v14m14 38v21m1 -20v25m3 -49v12m1 -12v20m7 31v19m1 -17v23m3 -51v23m1 -24v28m14 35v3m6 46v16m1 50v13m2 -42v23m1 -86v30m0 19v43m1 -93v31m0 22v39m1 -82v69m1 -61v53m1 -55v57m1 -57v57m1 -55v53m1 -61v69m1 -79v31m0 22v39m1 -91v30m0 19v43m1 -29v23m2 6v13m1 -79v16m6 -65v3m14 -66v28m1 -27v23m3 5v23m1 -25v19m7 -70v20m1 -20v12m3 12v25m1 -26v21m14 -73v14m1 -23v24m3 18v9m1 -14v9m4 -47v22m1 -22v14m3 19v15m4 -48v16m1 -23v19m4 -41v8m3 20v7m1 -18v20m4 -38v11m3 12v9m1 -17v21m4 -36v10m3 8v15m1 -18v19m3 -33v6m1 -7v8m3 9v14m1 -13v11m3 -28v5m1 -5v3m3 12v15m4 -31v5"/><path stroke="#004eff" d="M45 21v11m7 -7v3m1 -6v9m3 -27v6m4 9v17m1 -13v11m3 -31v9m4 8v17m4 -33v8m4 10v17m4 -33v3m4 19v14m1 -6v11m4 22v8m3 -41v8m1 -9v19m8 -18v20m1 -7v2m14 47v16m1 -17v23m4 -45v15m7 36v13m1 -12v18m3 -46v19m1 -21v26m23 126v16m1 -81v25m0 24v40m1 -91v28m0 26v36m1 -77v14m0 26v22m1 -57v51m1 -53v56m1 -56v56m1 -54v51m1 -56v14m0 26v22m1 -75v28m0 26v36m1 -88v25m0 24v40m1 -24v16m23 -168v26m1 -24v19m3 9v18m1 -19v13m7 -64v15m4 7v23m1 -22v16m14 -65v2m1 -15v20m8 -21v19m1 -18v8m3 25v8m4 -41v11m1 -19v14m4 -36v3m4 13v17m4 -35v8m4 8v17m4 -34v9m3 11v11m1 -15v17m4 -32v6m3 12v9m1 -6v3m7 -7v11"/><path stroke="#0062ff" d="M45 26v1m11 -22v3m4 13v13m1 -6v1m3 -25v6m4 11v14m4 -30v5m4 14v13m8 -6v8m9 -2v15m8 -14v16m15 47v10m1 -12v19m4 -40v8m7 44v5m1 -5v12m3 -41v15m1 -17v22m24 65v21m0 28v36m1 -87v24m0 30v32m1 -26v6m1 -49v49m1 -52v55m1 -55v55m1 -52v49m1 -6v6m1 -66v24m0 30v32m1 -84v21m0 28v36m24 -172v22m1 -20v15m3 14v12m1 -12v5m7 -57v8m4 13v19m1 -17v10m15 -73v16m8 -17v15m9 -21v8m8 -15v13m4 -32v5m4 11v14m4 -31v6m3 18v1m1 -8v13m4 -29v3m11 18v1"/><path stroke="#0076ff" d="M60 23v8m4 -25v2m4 16v9m8 -5v5m17 7v9m8 -8v10m16 50v15m15 -12v9m1 -12v18m24 69v16m0 33v33m1 -85v21m0 33v30m2 -67v47m1 -50v53m1 -53v53m1 -50v47m2 -64v21m0 33v30m1 -81v16m0 33v33m24 -169v18m1 -15v9m15 -12v15m16 -75v10m8 -11v9m17 -21v5m8 -9v9m4 -27v2m4 15v8"/><path stroke="#008bff" d="M117 103v11m16 -11v13m24 75v9m0 39v30m1 -82v17m0 37v27m2 -65v45m1 -48v52m1 -52v52m1 -49v45m2 -61v17m0 37v27m1 -77v9m0 39v30m24 -166v13m16 -13v11"/><path stroke="#009fff" d="M117 108v1m16 -2v6m24 128v26m1 -78v12m0 42v23m2 -62v43m1 -47v51m1 -51v51m1 -47v43m2 -58v12m0 42v23m1 -25v26m24 -160v6m16 -5v1"/><path stroke="#00b4ff" d="M157 243v22m1 -71v2m0 49v19m2 -59v40m1 -44v50m1 -50v50m1 -46v40m2 -51v2m0 49v19m1 -21v22"/><path stroke="#00c8ff" stroke-width="1.2" d="M157 245v19m1 -17v15m2 -56v38m1 -43v49m1 -49v49m1 -44v38m2 3v15m1 -17v19"/><path stroke="#00dcfe" stroke-width="1.2" d="M157 247v15m1 -12v10m2 -53v36m1 -41v47m1 -47v47m1 -42v36m2 7v10m1 -13v15"/><path stroke="#07eef0" stroke-width="1.2" d="M157 250v8m3 -50v34m1 -40v47m1 -47v47m1 -41v34m3 8v8"/><path stroke="#17ffe0" stroke-width="1.2" d="M160 209v32m1 -38v45m1 -45v45m1 -39v32"/><path stroke="#2bffcc" stroke-width="1.2" d="M160 211v29m1 -37v45m1 -45v45m1 -37v29"/><path stroke="#40ffb7" stroke-width="1.2" d="M160 212v26m1 -34v43m1 -43v43m1 -35v26"/><path stroke="#54ffa2" stroke-width="1.2" d="M160 214v23m1 -32v41m1 -41v41m1 -32v23"/><path stroke="#69ff8e" stroke-width="1.2" d="M160 215v20m1 -30v41m1 -41v41m1 -31v20"/><path stroke="#7dff79" stroke-width="1.2" d="M160 217v16m1 -27v39m1 -39v39m1 -28v16"/><path stroke="#92ff65" stroke-width="1.2" d="M160 220v10m1 -24v38m1 -38v38m1 -24v10"/><path stroke="#a7ff50" stroke-width="1.2" d="M161 207v37m1 -37v37"/><path stroke="#bbff3c" stroke-width="1.2" d="M161 208v35m1 -35v35"/><path stroke="#d0ff27" stroke-width="1.2" d="M161 208v34m1 -34v34"/><path stroke="#dcff1b" stroke-width="1.2" d="M161 209v33m1 -33v33"/><path stroke="#eaff0c" stroke-width="1.2" d="M161 209v33m1 -33v33"/><path stroke="#ffe700" stroke-width="1.2" d="M161 210v31m1 -31v31"/><path stroke="#ffcb00" stroke-width="1.2" d="M161 211v29m1 -29v29"/><path stroke="#ffaf00" stroke-width="1.2" d="M161 211v28m1 -28v28"/><path stroke="#ff9200" stroke-width="1.2" d="M161 212v26m1 -26v26"/><path stroke="#ff7600" stroke-width="1.2" d="M161 213v24m1 -24v24"/><path stroke="#ff5a00" stroke-width="1.2" d="M161 214v23m1 -23v23"/><path stroke="#ff3d00" stroke-width="1.2" d="M161 215v21m1 -21v21"/><path stroke="#ff2900" stroke-width="1.2" d="M161 216v19m1 -19v19"/><path stroke="#ff1500" stroke-width="1.2" d="M161 216v18m1 -18v18"/></g></g></g>
<path d="M475.6,53.9H799.8M476.4,53.1V662.4M476.4,53.9H488.7M476.4,129.9H488.7M476.4,205.9H488.7M476.4,281.9H488.7M476.4,357.9H488.7M476.4,433.9H488.7M476.4,509.9H488.7M476.4,585.9H488.7" stroke="#000" stroke-width="1.6" fill="none"/>
<path d="M476.4,69.1h5M476.4,84.3h5M476.4,99.5h5M476.4,114.7h5M476.4,145.1h5M476.4,160.3h5M476.4,175.5h5M476.4,190.7h5M476.4,221.1h5M476.4,236.3h5M476.4,251.5h5M476.4,266.7h5M476.4,297.1h5M476.4,312.3h5M476.4,327.5h5M476.4,342.7h5M476.4,373.1h5M476.4,388.3h5M476.4,403.5h5M476.4,418.7h5M476.4,449.1h5M476.4,464.3h5M476.4,479.5h5M476.4,494.7h5M476.4,525.1h5M476.4,540.3h5M476.4,555.5h5M476.4,570.7h5M476.4,601.1h5M476.4,616.3h5M476.4,631.5h5M476.4,646.7h5" stroke="#000" stroke-opacity="0.3" stroke-width="1.4" fill="none"/>
<rect x="797" y="53.1" width="2.8" height="11.4" fill="#000"/>
<text x="803.30" y="61.20" font-size="27" text-anchor="start" fill="#000" >0</text>
<text x="803.30" y="215.00" font-size="27" text-anchor="start" fill="#000" >1</text>
<text x="803.30" y="367.00" font-size="27" text-anchor="start" fill="#000" >2</text>
<text x="803.30" y="519.00" font-size="27" text-anchor="start" fill="#000" >3</text>
<text x="803.30" y="668.00" font-size="27" text-anchor="start" fill="#000" >4</text>
<text x="500.50" y="692.30" font-size="27" text-anchor="middle" fill="#000" >-5</text>
<text x="635.00" y="692.30" font-size="27" text-anchor="middle" fill="#000" >0</text>
<text x="769.50" y="692.30" font-size="27" text-anchor="middle" fill="#000" >5</text>
<text x="633.5" y="722" font-size="27.5" text-anchor="middle"><tspan font-style="italic">y</tspan> (μm)</text>
<text x="0" y="0" font-size="27.5" text-anchor="middle" transform="translate(860,370.4) rotate(-90)"><tspan font-style="italic">x</tspan> (μm)</text>
<defs><linearGradient id="jet" x1="0" y1="0" x2="0" y2="1"><stop offset="0.000" stop-color="#800000"/><stop offset="0.043" stop-color="#b20000"/><stop offset="0.087" stop-color="#e40000"/><stop offset="0.130" stop-color="#ff2600"/><stop offset="0.174" stop-color="#ff4f00"/><stop offset="0.217" stop-color="#ff7800"/><stop offset="0.261" stop-color="#ffa100"/><stop offset="0.304" stop-color="#ffca00"/><stop offset="0.348" stop-color="#f9f400"/><stop offset="0.391" stop-color="#d5ff22"/><stop offset="0.435" stop-color="#b1ff46"/><stop offset="0.478" stop-color="#8dff6a"/><stop offset="0.522" stop-color="#6aff8d"/><stop offset="0.565" stop-color="#46ffb1"/><stop offset="0.609" stop-color="#22ffd5"/><stop offset="0.652" stop-color="#00e3f9"/><stop offset="0.696" stop-color="#00b7ff"/><stop offset="0.739" stop-color="#008bff"/><stop offset="0.783" stop-color="#005eff"/><stop offset="0.826" stop-color="#0032ff"/><stop offset="0.870" stop-color="#0006ff"/><stop offset="0.913" stop-color="#0000e4"/><stop offset="0.957" stop-color="#0000b2"/><stop offset="1.000" stop-color="#000080"/></linearGradient></defs>
<rect x="832" y="59.5" width="13" height="146.5" fill="url(#jet)"/>
<path d="M832,89.9h13M832,119.1h13M832,147.6h13M832,176.8h13" stroke="#222" stroke-width="1.2"/>
<text x="853" y="67" font-size="27">I<tspan font-size="18.5" dy="6">max</tspan></text>
<text x="851.00" y="210.50" font-size="27" text-anchor="start" fill="#000" >0</text></svg></body></html>
